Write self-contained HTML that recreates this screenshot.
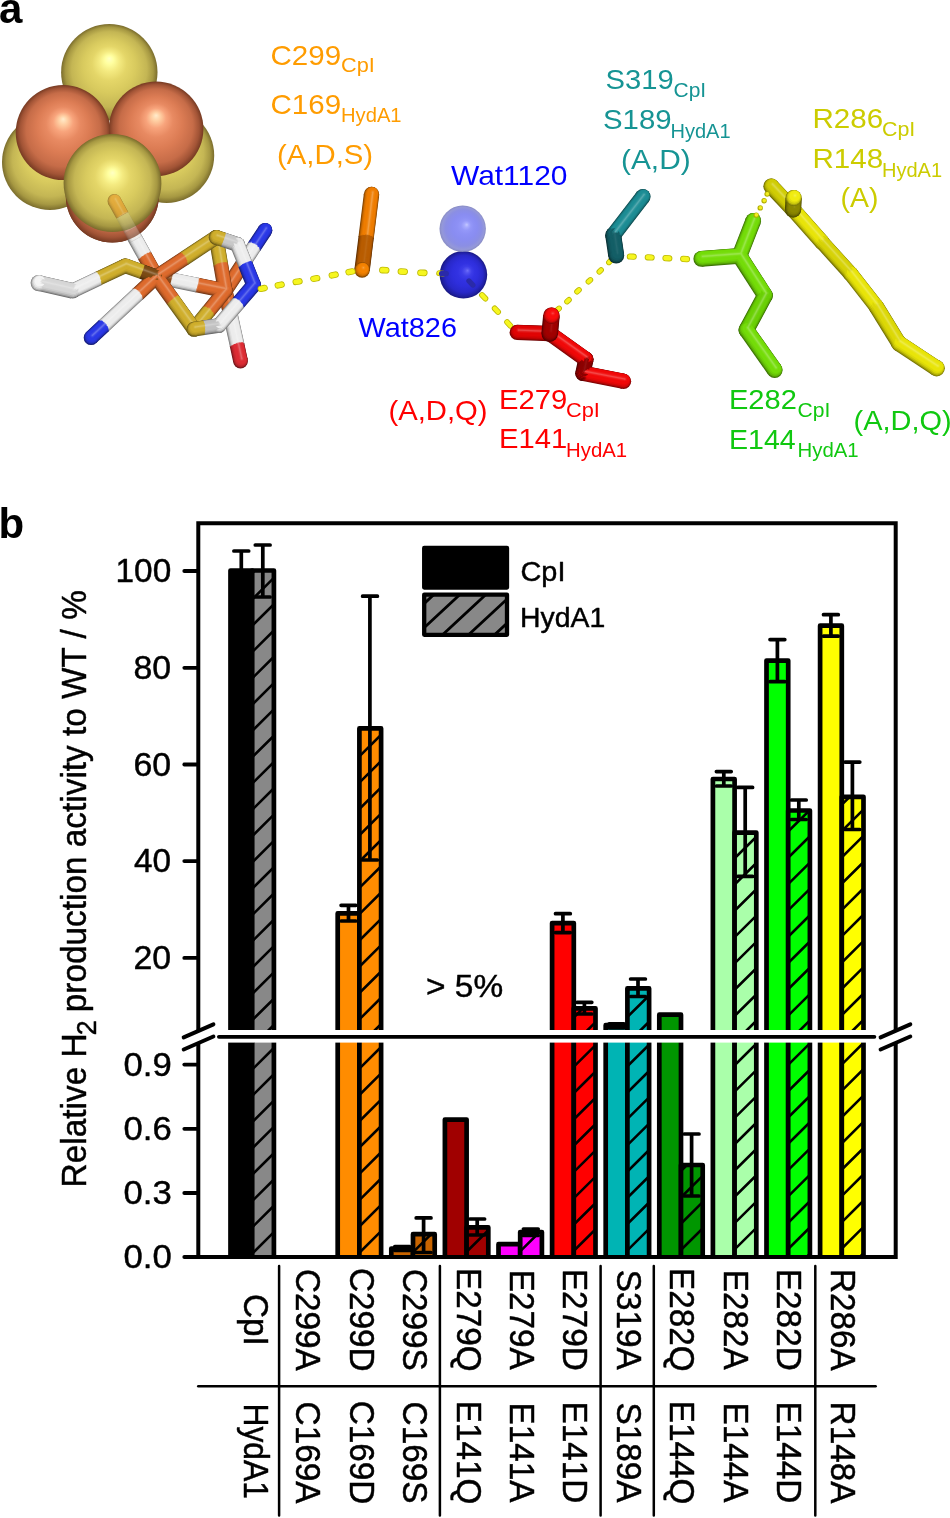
<!DOCTYPE html>
<html lang="en">
<head>
<meta charset="utf-8">
<title>Figure</title>
<style>
html,body{margin:0;padding:0;background:#fff;}
body{width:950px;height:1518px;overflow:hidden;font-family:'Liberation Sans', Arial, Helvetica, sans-serif;}
svg{display:block;}
svg text{font-family:'Liberation Sans', Arial, Helvetica, sans-serif;}
</style>
</head>
<body>
<svg width="950" height="1518" viewBox="0 0 950 1518">
<defs>
<clipPath id="c0b"><rect x="252.2" y="570.5" width="21.7" height="686.5"/></clipPath>
<clipPath id="c2b"><rect x="359.4" y="728.4" width="21.7" height="528.6"/></clipPath>
<clipPath id="c3b"><rect x="413.0" y="1234.2" width="21.7" height="22.8"/></clipPath>
<clipPath id="c4b"><rect x="466.6" y="1227.4" width="21.7" height="29.6"/></clipPath>
<clipPath id="c5b"><rect x="520.2" y="1232.0" width="21.7" height="25.0"/></clipPath>
<clipPath id="c6b"><rect x="573.8" y="1008.4" width="21.7" height="248.6"/></clipPath>
<clipPath id="c7b"><rect x="627.4" y="988.4" width="21.7" height="268.6"/></clipPath>
<clipPath id="c8b"><rect x="681.0" y="1165.0" width="21.7" height="92.0"/></clipPath>
<clipPath id="c9b"><rect x="734.6" y="832.6" width="21.7" height="424.4"/></clipPath>
<clipPath id="c10b"><rect x="788.2" y="810.5" width="21.7" height="446.5"/></clipPath>
<clipPath id="c11b"><rect x="841.8" y="796.8" width="21.7" height="460.2"/></clipPath>
<clipPath id="cleg"><rect x="424.2" y="594.7" width="82.8" height="40.1"/></clipPath>
<radialGradient id="sg1" cx="0.5" cy="0.5" r="0.5" fx="0.5" fy="0.357"><stop offset="0" stop-color="#ffffc4"/><stop offset="0.09" stop-color="#ffffa0"/><stop offset="0.21" stop-color="#f4ea80"/><stop offset="0.36" stop-color="#e4d668"/><stop offset="0.55" stop-color="#d8ca5e"/><stop offset="0.78" stop-color="#c4b654"/><stop offset="0.91" stop-color="#a69842"/><stop offset="1.0" stop-color="#7a6c2c"/></radialGradient>
<radialGradient id="sg2" cx="0.5" cy="0.5" r="0.5" fx="0.5" fy="0.357"><stop offset="0" stop-color="#ffffc4"/><stop offset="0.09" stop-color="#ffffa0"/><stop offset="0.21" stop-color="#f4ea80"/><stop offset="0.36" stop-color="#e4d668"/><stop offset="0.55" stop-color="#d8ca5e"/><stop offset="0.78" stop-color="#c4b654"/><stop offset="0.91" stop-color="#a69842"/><stop offset="1.0" stop-color="#7a6c2c"/></radialGradient>
<radialGradient id="sg3" cx="0.5" cy="0.5" r="0.5" fx="0.5" fy="0.357"><stop offset="0" stop-color="#ffeccc"/><stop offset="0.09" stop-color="#ffd0a4"/><stop offset="0.21" stop-color="#f8a47c"/><stop offset="0.36" stop-color="#e88a62"/><stop offset="0.55" stop-color="#dc7c54"/><stop offset="0.78" stop-color="#c66c48"/><stop offset="0.91" stop-color="#a25436"/><stop offset="1.0" stop-color="#763a22"/></radialGradient>
<radialGradient id="sg4" cx="0.5" cy="0.5" r="0.5" fx="0.5" fy="0.357"><stop offset="0" stop-color="#ffffc4"/><stop offset="0.09" stop-color="#ffffa0"/><stop offset="0.21" stop-color="#f4ea80"/><stop offset="0.36" stop-color="#e4d668"/><stop offset="0.55" stop-color="#d8ca5e"/><stop offset="0.78" stop-color="#c4b654"/><stop offset="0.91" stop-color="#a69842"/><stop offset="1.0" stop-color="#7a6c2c"/></radialGradient>
<clipPath id="clL"><rect x="0" y="0" width="110.2" height="300"/></clipPath>
<clipPath id="clR"><rect x="109.4" y="0" width="300" height="300"/></clipPath>
<radialGradient id="sg5" cx="0.5" cy="0.5" r="0.5" fx="0.5" fy="0.357"><stop offset="0" stop-color="#ffeccc"/><stop offset="0.09" stop-color="#ffd0a4"/><stop offset="0.21" stop-color="#f8a47c"/><stop offset="0.36" stop-color="#e88a62"/><stop offset="0.55" stop-color="#dc7c54"/><stop offset="0.78" stop-color="#c66c48"/><stop offset="0.91" stop-color="#a25436"/><stop offset="1.0" stop-color="#763a22"/></radialGradient>
<radialGradient id="sg6" cx="0.5" cy="0.5" r="0.5" fx="0.5" fy="0.357"><stop offset="0" stop-color="#ffeccc"/><stop offset="0.09" stop-color="#ffd0a4"/><stop offset="0.21" stop-color="#f8a47c"/><stop offset="0.36" stop-color="#e88a62"/><stop offset="0.55" stop-color="#dc7c54"/><stop offset="0.78" stop-color="#c66c48"/><stop offset="0.91" stop-color="#a25436"/><stop offset="1.0" stop-color="#763a22"/></radialGradient>
<clipPath id="clF"><rect x="0" y="180" width="300" height="200"/></clipPath>
<radialGradient id="sg7" cx="0.5" cy="0.5" r="0.5" fx="0.5" fy="0.357"><stop offset="0" stop-color="#ffeccc"/><stop offset="0.09" stop-color="#ffd0a4"/><stop offset="0.21" stop-color="#f8a47c"/><stop offset="0.36" stop-color="#e88a62"/><stop offset="0.55" stop-color="#dc7c54"/><stop offset="0.78" stop-color="#c66c48"/><stop offset="0.91" stop-color="#a25436"/><stop offset="1.0" stop-color="#763a22"/></radialGradient>
<radialGradient id="sg8" cx="0.5" cy="0.5" r="0.5" fx="0.5" fy="0.395"><stop offset="0" stop-color="#ffffc4"/><stop offset="0.09" stop-color="#ffffa0"/><stop offset="0.21" stop-color="#f4ea80"/><stop offset="0.36" stop-color="#e4d668"/><stop offset="0.55" stop-color="#d8ca5e"/><stop offset="0.78" stop-color="#c4b654"/><stop offset="0.91" stop-color="#a69842"/><stop offset="1.0" stop-color="#7a6c2c"/></radialGradient>
<radialGradient id="sg9" cx="0.5" cy="0.5" r="0.5" fx="0.59" fy="0.41"><stop offset="0" stop-color="#7070f8"/><stop offset="0.09" stop-color="#5252f0"/><stop offset="0.21" stop-color="#3c3ce8"/><stop offset="0.36" stop-color="#3232e2"/><stop offset="0.55" stop-color="#2e2edc"/><stop offset="0.78" stop-color="#2828c8"/><stop offset="0.91" stop-color="#2020a4"/><stop offset="1.0" stop-color="#181880"/></radialGradient>
<radialGradient id="sg10" cx="0.5" cy="0.5" r="0.5" fx="0.59" fy="0.41"><stop offset="0" stop-color="#c0c4ff"/><stop offset="0.09" stop-color="#a2a6fe"/><stop offset="0.21" stop-color="#8c90f8"/><stop offset="0.36" stop-color="#8488f4"/><stop offset="0.55" stop-color="#8084f0"/><stop offset="0.78" stop-color="#8286e2"/><stop offset="0.91" stop-color="#8c90d6"/><stop offset="1.0" stop-color="#8084c0"/></radialGradient>
</defs>
<rect x="0" y="0" width="950" height="1518" fill="#fff"/>
<g id="panel-b">
<text transform="translate(-1.5,538.0)" font-size="42" fill="#000" font-weight="bold">b</text>
<path d="M230.5,1257.0V570.5H252.2V1257.0Z" fill="#000000"/>
<path d="M230.5,1257.0V570.5H252.2V1257.0" fill="none" stroke="#000" stroke-width="4.7" stroke-linejoin="round"/>
<path d="M252.2,1257.0V570.5H273.9V1257.0Z" fill="#888888"/>
<path d="M261.5,1297.0L275.9,1282.7M250.2,1281.9L275.9,1256.4M250.2,1255.6L275.9,1230.1M250.2,1229.3L275.9,1203.8M250.2,1203.0L275.9,1177.5M250.2,1176.7L275.9,1151.2M250.2,1150.4L275.9,1124.9M250.2,1124.1L275.9,1098.6M250.2,1097.8L275.9,1072.3M250.2,1071.5L275.9,1046.0M250.2,1045.2L258.5,1037.0M261.8,1037.0L275.9,1023.0M250.2,1022.2L275.9,996.7M250.2,995.9L275.9,970.4M250.2,969.6L275.9,944.1M250.2,943.3L275.9,917.8M250.2,917.0L275.9,891.5M250.2,890.7L275.9,865.2M250.2,864.4L275.9,838.9M250.2,838.1L275.9,812.6M250.2,811.8L275.9,786.3M250.2,785.5L275.9,760.0M250.2,759.2L275.9,733.7M250.2,732.9L275.9,707.4M250.2,706.6L275.9,681.1M250.2,680.3L275.9,654.8M250.2,654.0L275.9,628.5M250.2,627.7L275.9,602.2M250.2,601.4L275.9,575.9M250.2,575.1L275.9,549.6" fill="none" stroke="#000" stroke-width="2.6" clip-path="url(#c0b)"/>
<path d="M252.2,1257.0V570.5H273.9V1257.0" fill="none" stroke="#000" stroke-width="4.7" stroke-linejoin="round"/>
<path d="M241.3,551.0V570.5M233.9,551.0h14.8" fill="none" stroke="#000" stroke-width="3.7" stroke-linecap="round"/>
<path d="M262.8,545.0V597.0M255.3,545.0h14.8M255.3,597.0h14.8" fill="none" stroke="#000" stroke-width="3.7" stroke-linecap="round"/>
<path d="M337.7,1257.0V913.4H359.4V1257.0Z" fill="#FF8C00"/>
<path d="M337.7,1257.0V913.4H359.4V1257.0" fill="none" stroke="#000" stroke-width="4.7" stroke-linejoin="round"/>
<path d="M359.4,1257.0V728.4H381.1V1257.0Z" fill="#FF8C00"/>
<path d="M367.8,1297.0L383.1,1281.8M357.4,1281.0L383.1,1255.5M357.4,1254.7L383.1,1229.2M357.4,1228.4L383.1,1202.9M357.4,1202.1L383.1,1176.6M357.4,1175.8L383.1,1150.3M357.4,1149.5L383.1,1124.0M357.4,1123.2L383.1,1097.7M357.4,1096.9L383.1,1071.4M357.4,1070.6L383.1,1045.1M357.4,1044.3L364.7,1037.0M368.1,1037.0L383.1,1022.1M357.4,1021.3L383.1,995.8M357.4,995.0L383.1,969.5M357.4,968.7L383.1,943.2M357.4,942.4L383.1,916.9M357.4,916.1L383.1,890.6M357.4,889.8L383.1,864.3M357.4,863.5L383.1,838.0M357.4,837.2L383.1,811.7M357.4,810.9L383.1,785.4M357.4,784.6L383.1,759.1M357.4,758.3L383.1,732.8M357.4,732.0L383.1,706.5" fill="none" stroke="#000" stroke-width="2.6" clip-path="url(#c2b)"/>
<path d="M359.4,1257.0V728.4H381.1V1257.0" fill="none" stroke="#000" stroke-width="4.7" stroke-linejoin="round"/>
<path d="M348.5,905.3V921.0M341.1,905.3h14.8M341.1,921.0h14.8" fill="none" stroke="#000" stroke-width="3.7" stroke-linecap="round"/>
<path d="M369.9,596.2V860.0M362.6,596.2h14.8M362.6,860.0h14.8" fill="none" stroke="#000" stroke-width="3.7" stroke-linecap="round"/>
<path d="M391.3,1257.0V1248.6H413.0V1257.0Z" fill="#C86400"/>
<path d="M391.3,1257.0V1248.6H413.0V1257.0" fill="none" stroke="#000" stroke-width="4.7" stroke-linejoin="round"/>
<path d="M413.0,1257.0V1234.2H434.7V1257.0Z" fill="#C86400"/>
<path d="M420.9,1297.0L436.7,1281.3M411.0,1280.5L436.7,1255.0M411.0,1254.2L436.7,1228.7" fill="none" stroke="#000" stroke-width="2.6" clip-path="url(#c3b)"/>
<path d="M413.0,1257.0V1234.2H434.7V1257.0" fill="none" stroke="#000" stroke-width="4.7" stroke-linejoin="round"/>
<path d="M402.1,1246.5V1250.5M394.8,1246.5h14.8M394.8,1250.5h14.8" fill="none" stroke="#000" stroke-width="3.7" stroke-linecap="round"/>
<path d="M423.6,1217.9V1252.5M416.2,1217.9h14.8M416.2,1252.5h14.8" fill="none" stroke="#000" stroke-width="3.7" stroke-linecap="round"/>
<path d="M444.9,1257.0V1119.6H466.6V1257.0Z" fill="#A00000"/>
<path d="M444.9,1257.0V1119.6H466.6V1257.0" fill="none" stroke="#000" stroke-width="4.7" stroke-linejoin="round"/>
<path d="M466.6,1257.0V1227.4H488.3V1257.0Z" fill="#A00000"/>
<path d="M474.0,1297.0L490.3,1280.9M464.6,1280.0L490.3,1254.6M464.6,1253.7L490.3,1228.3M464.6,1227.4L490.3,1202.0" fill="none" stroke="#000" stroke-width="2.6" clip-path="url(#c4b)"/>
<path d="M466.6,1257.0V1227.4H488.3V1257.0" fill="none" stroke="#000" stroke-width="4.7" stroke-linejoin="round"/>
<path d="M477.2,1219.0V1235.0M469.8,1219.0h14.8M469.8,1235.0h14.8" fill="none" stroke="#000" stroke-width="3.7" stroke-linecap="round"/>
<path d="M498.5,1257.0V1244.2H520.2V1257.0Z" fill="#FF00FF"/>
<path d="M498.5,1257.0V1244.2H520.2V1257.0" fill="none" stroke="#000" stroke-width="4.7" stroke-linejoin="round"/>
<path d="M520.2,1257.0V1232.0H541.9V1257.0Z" fill="#FF00FF"/>
<path d="M527.2,1297.0L543.9,1280.4M518.2,1279.6L543.9,1254.1M518.2,1253.3L543.9,1227.8" fill="none" stroke="#000" stroke-width="2.6" clip-path="url(#c5b)"/>
<path d="M520.2,1257.0V1232.0H541.9V1257.0" fill="none" stroke="#000" stroke-width="4.7" stroke-linejoin="round"/>
<path d="M530.8,1229.0V1235.5M523.4,1229.0h14.8M523.4,1235.5h14.8" fill="none" stroke="#000" stroke-width="3.7" stroke-linecap="round"/>
<path d="M552.1,1257.0V923.1H573.8V1257.0Z" fill="#FF0000"/>
<path d="M552.1,1257.0V923.1H573.8V1257.0" fill="none" stroke="#000" stroke-width="4.7" stroke-linejoin="round"/>
<path d="M573.8,1257.0V1008.4H595.5V1257.0Z" fill="#FF0000"/>
<path d="M580.3,1297.0L597.5,1280.0M571.8,1279.1L597.5,1253.7M571.8,1252.8L597.5,1227.4M571.8,1226.5L597.5,1201.1M571.8,1200.2L597.5,1174.8M571.8,1173.9L597.5,1148.5M571.8,1147.6L597.5,1122.2M571.8,1121.3L597.5,1095.9M571.8,1095.0L597.5,1069.6M571.8,1068.7L597.5,1043.3M571.8,1042.4L577.3,1037.0M580.6,1037.0L597.5,1020.3M571.8,1019.4L597.5,994.0" fill="none" stroke="#000" stroke-width="2.6" clip-path="url(#c6b)"/>
<path d="M573.8,1257.0V1008.4H595.5V1257.0" fill="none" stroke="#000" stroke-width="4.7" stroke-linejoin="round"/>
<path d="M562.9,913.7V932.6M555.5,913.7h14.8M555.5,932.6h14.8" fill="none" stroke="#000" stroke-width="3.7" stroke-linecap="round"/>
<path d="M584.4,1002.3V1014.0M577.0,1002.3h14.8M577.0,1014.0h14.8" fill="none" stroke="#000" stroke-width="3.7" stroke-linecap="round"/>
<path d="M605.7,1257.0V1025.2H627.4V1257.0Z" fill="#00B4B4"/>
<path d="M605.7,1257.0V1025.2H627.4V1257.0" fill="none" stroke="#000" stroke-width="4.7" stroke-linejoin="round"/>
<path d="M627.4,1257.0V988.4H649.1V1257.0Z" fill="#00B4B4"/>
<path d="M633.4,1297.0L651.1,1279.5M625.4,1278.6L651.1,1253.2M625.4,1252.3L651.1,1226.9M625.4,1226.0L651.1,1200.6M625.4,1199.7L651.1,1174.3M625.4,1173.4L651.1,1148.0M625.4,1147.1L651.1,1121.7M625.4,1120.8L651.1,1095.4M625.4,1094.5L651.1,1069.1M625.4,1068.2L651.1,1042.8M625.4,1041.9L630.4,1037.0M633.7,1037.0L651.1,1019.8M625.4,1018.9L651.1,993.5M625.4,992.6L651.1,967.2" fill="none" stroke="#000" stroke-width="2.6" clip-path="url(#c7b)"/>
<path d="M627.4,1257.0V988.4H649.1V1257.0" fill="none" stroke="#000" stroke-width="4.7" stroke-linejoin="round"/>
<path d="M616.5,1023.8V1028.0M609.1,1023.8h14.8M609.1,1028.0h14.8" fill="none" stroke="#000" stroke-width="3.7" stroke-linecap="round"/>
<path d="M638.0,979.0V996.5M630.6,979.0h14.8M630.6,996.5h14.8" fill="none" stroke="#000" stroke-width="3.7" stroke-linecap="round"/>
<path d="M659.3,1257.0V1014.7H681.0V1257.0Z" fill="#009600"/>
<path d="M659.3,1257.0V1014.7H681.0V1257.0" fill="none" stroke="#000" stroke-width="4.7" stroke-linejoin="round"/>
<path d="M681.0,1257.0V1165.0H702.7V1257.0Z" fill="#009600"/>
<path d="M686.5,1297.0L704.7,1279.0M679.0,1278.2L704.7,1252.7M679.0,1251.9L704.7,1226.4M679.0,1225.6L704.7,1200.1M679.0,1199.3L704.7,1173.8M679.0,1173.0L704.7,1147.5" fill="none" stroke="#000" stroke-width="2.6" clip-path="url(#c8b)"/>
<path d="M681.0,1257.0V1165.0H702.7V1257.0" fill="none" stroke="#000" stroke-width="4.7" stroke-linejoin="round"/>
<path d="M691.6,1134.0V1196.0M684.2,1134.0h14.8M684.2,1196.0h14.8" fill="none" stroke="#000" stroke-width="3.7" stroke-linecap="round"/>
<path d="M712.9,1257.0V779.0H734.6V1257.0Z" fill="#AAFFAA"/>
<path d="M712.9,1257.0V779.0H734.6V1257.0" fill="none" stroke="#000" stroke-width="4.7" stroke-linejoin="round"/>
<path d="M734.6,1257.0V832.6H756.3V1257.0Z" fill="#AAFFAA"/>
<path d="M739.7,1297.0L758.3,1278.6M732.6,1277.7L758.3,1252.3M732.6,1251.4L758.3,1226.0M732.6,1225.1L758.3,1199.7M732.6,1198.8L758.3,1173.4M732.6,1172.5L758.3,1147.1M732.6,1146.2L758.3,1120.8M732.6,1119.9L758.3,1094.5M732.6,1093.6L758.3,1068.2M732.6,1067.3L758.3,1041.9M732.6,1041.0L736.6,1037.0M740.0,1037.0L758.3,1018.9M732.6,1018.0L758.3,992.6M732.6,991.7L758.3,966.3M732.6,965.4L758.3,940.0M732.6,939.1L758.3,913.7M732.6,912.8L758.3,887.4M732.6,886.5L758.3,861.1M732.6,860.2L758.3,834.8M732.6,833.9L758.3,808.5" fill="none" stroke="#000" stroke-width="2.6" clip-path="url(#c9b)"/>
<path d="M734.6,1257.0V832.6H756.3V1257.0" fill="none" stroke="#000" stroke-width="4.7" stroke-linejoin="round"/>
<path d="M723.8,771.6V786.0M716.4,771.6h14.8M716.4,786.0h14.8" fill="none" stroke="#000" stroke-width="3.7" stroke-linecap="round"/>
<path d="M745.2,787.4V876.4M737.8,787.4h14.8M737.8,876.4h14.8" fill="none" stroke="#000" stroke-width="3.7" stroke-linecap="round"/>
<path d="M766.5,1257.0V660.6H788.2V1257.0Z" fill="#00FF00"/>
<path d="M766.5,1257.0V660.6H788.2V1257.0" fill="none" stroke="#000" stroke-width="4.7" stroke-linejoin="round"/>
<path d="M788.2,1257.0V810.5H809.9V1257.0Z" fill="#00FF00"/>
<path d="M792.8,1297.0L811.9,1278.1M786.2,1277.2L811.9,1251.8M786.2,1250.9L811.9,1225.5M786.2,1224.6L811.9,1199.2M786.2,1198.3L811.9,1172.9M786.2,1172.0L811.9,1146.6M786.2,1145.7L811.9,1120.3M786.2,1119.4L811.9,1094.0M786.2,1093.1L811.9,1067.7M786.2,1066.8L811.9,1041.4M786.2,1040.5L789.8,1037.0M793.1,1037.0L811.9,1018.4M786.2,1017.5L811.9,992.1M786.2,991.2L811.9,965.8M786.2,964.9L811.9,939.5M786.2,938.6L811.9,913.2M786.2,912.3L811.9,886.9M786.2,886.0L811.9,860.6M786.2,859.7L811.9,834.3M786.2,833.4L811.9,808.0" fill="none" stroke="#000" stroke-width="2.6" clip-path="url(#c10b)"/>
<path d="M788.2,1257.0V810.5H809.9V1257.0" fill="none" stroke="#000" stroke-width="4.7" stroke-linejoin="round"/>
<path d="M777.4,639.6V681.7M770.0,639.6h14.8M770.0,681.7h14.8" fill="none" stroke="#000" stroke-width="3.7" stroke-linecap="round"/>
<path d="M798.8,800.0V819.5M791.4,800.0h14.8M791.4,819.5h14.8" fill="none" stroke="#000" stroke-width="3.7" stroke-linecap="round"/>
<path d="M820.1,1257.0V625.7H841.8V1257.0Z" fill="#FFFF00"/>
<path d="M820.1,1257.0V625.7H841.8V1257.0" fill="none" stroke="#000" stroke-width="4.7" stroke-linejoin="round"/>
<path d="M841.8,1257.0V796.8H863.5V1257.0Z" fill="#FFFF00"/>
<path d="M845.9,1297.0L865.5,1277.6M839.8,1276.8L865.5,1251.3M839.8,1250.5L865.5,1225.0M839.8,1224.2L865.5,1198.7M839.8,1197.9L865.5,1172.4M839.8,1171.6L865.5,1146.1M839.8,1145.3L865.5,1119.8M839.8,1119.0L865.5,1093.5M839.8,1092.7L865.5,1067.2M839.8,1066.4L865.5,1040.9M839.8,1040.1L842.9,1037.0M846.2,1037.0L865.5,1017.9M839.8,1017.1L865.5,991.6M839.8,990.8L865.5,965.3M839.8,964.5L865.5,939.0M839.8,938.2L865.5,912.7M839.8,911.9L865.5,886.4M839.8,885.6L865.5,860.1M839.8,859.3L865.5,833.8M839.8,833.0L865.5,807.5M839.8,806.7L865.5,781.2" fill="none" stroke="#000" stroke-width="2.6" clip-path="url(#c11b)"/>
<path d="M841.8,1257.0V796.8H863.5V1257.0" fill="none" stroke="#000" stroke-width="4.7" stroke-linejoin="round"/>
<path d="M830.9,614.7V636.2M823.5,614.7h14.8M823.5,636.2h14.8" fill="none" stroke="#000" stroke-width="3.7" stroke-linecap="round"/>
<path d="M852.4,762.1V829.5M845.0,762.1h14.8M845.0,829.5h14.8" fill="none" stroke="#000" stroke-width="3.7" stroke-linecap="round"/>
<rect x="216" y="1030.0" width="664" height="12.6" fill="#fff"/>
<path d="M218.9,1036.8H874.4" stroke="#000" stroke-width="3.8" stroke-linecap="round" fill="none"/>
<path d="M198.3,1030.5V523.2H895.7V1030.5 M198.3,1043V1257.0H895.7V1043" fill="none" stroke="#000" stroke-width="4.0" stroke-linejoin="miter"/>
<path d="M183.7,1037.4l29.7,-13.0M183.7,1049.5l29.7,-13.0" stroke="#000" stroke-width="4" stroke-linecap="round" fill="none"/>
<path d="M880.6,1037.4l29.7,-13.0M880.6,1049.5l29.7,-13.0" stroke="#000" stroke-width="4" stroke-linecap="round" fill="none"/>
<path d="M184.3,571.0H196.8" stroke="#000" stroke-width="3.8" stroke-linecap="round"/>
<text transform="translate(115.5,582.3)" font-size="33.6" fill="#000" stroke="#000" stroke-width="0.45" stroke-linejoin="round" textLength="55.7" lengthAdjust="spacingAndGlyphs">100</text>
<path d="M184.3,667.8H196.8" stroke="#000" stroke-width="3.8" stroke-linecap="round"/>
<text transform="translate(133.5,679.1)" font-size="33.6" fill="#000" stroke="#000" stroke-width="0.45" stroke-linejoin="round" textLength="37.7" lengthAdjust="spacingAndGlyphs">80</text>
<path d="M184.3,764.5H196.8" stroke="#000" stroke-width="3.8" stroke-linecap="round"/>
<text transform="translate(133.5,775.8)" font-size="33.6" fill="#000" stroke="#000" stroke-width="0.45" stroke-linejoin="round" textLength="37.7" lengthAdjust="spacingAndGlyphs">60</text>
<path d="M184.3,861.1H196.8" stroke="#000" stroke-width="3.8" stroke-linecap="round"/>
<text transform="translate(134.0,872.4)" font-size="33.6" fill="#000" stroke="#000" stroke-width="0.45" stroke-linejoin="round" textLength="37.1" lengthAdjust="spacingAndGlyphs">40</text>
<path d="M184.3,957.9H196.8" stroke="#000" stroke-width="3.8" stroke-linecap="round"/>
<text transform="translate(133.5,969.2)" font-size="33.6" fill="#000" stroke="#000" stroke-width="0.45" stroke-linejoin="round" textLength="37.7" lengthAdjust="spacingAndGlyphs">20</text>
<path d="M184.3,1064.6H196.8" stroke="#000" stroke-width="3.8" stroke-linecap="round"/>
<text transform="translate(123.5,1075.9)" font-size="33.6" fill="#000" stroke="#000" stroke-width="0.45" stroke-linejoin="round" textLength="48.2" lengthAdjust="spacingAndGlyphs">0.9</text>
<path d="M184.3,1128.8H196.8" stroke="#000" stroke-width="3.8" stroke-linecap="round"/>
<text transform="translate(123.5,1140.1)" font-size="33.6" fill="#000" stroke="#000" stroke-width="0.45" stroke-linejoin="round" textLength="48.2" lengthAdjust="spacingAndGlyphs">0.6</text>
<path d="M184.3,1193.0H196.8" stroke="#000" stroke-width="3.8" stroke-linecap="round"/>
<text transform="translate(123.5,1204.3)" font-size="33.6" fill="#000" stroke="#000" stroke-width="0.45" stroke-linejoin="round" textLength="48.2" lengthAdjust="spacingAndGlyphs">0.3</text>
<path d="M184.3,1257.0H196.8" stroke="#000" stroke-width="3.8" stroke-linecap="round"/>
<text transform="translate(123.5,1268.3)" font-size="33.6" fill="#000" stroke="#000" stroke-width="0.45" stroke-linejoin="round" textLength="48.3" lengthAdjust="spacingAndGlyphs">0.0</text>
<text transform="translate(86.3,1187.5) rotate(-90) scale(1.0,1.03)" font-size="33.3" fill="#000" stroke="#000" stroke-width="0.45" stroke-linejoin="round" textLength="154.2" lengthAdjust="spacingAndGlyphs">Relative H</text>
<text transform="translate(95.6,1035.2) rotate(-90) scale(1.0,1.03)" font-size="26.0" fill="#000" stroke="#000" stroke-width="0.45" stroke-linejoin="round" textLength="15.0" lengthAdjust="spacingAndGlyphs">2</text>
<text transform="translate(86.3,1012.2) rotate(-90) scale(1.0,1.03)" font-size="33.3" fill="#000" stroke="#000" stroke-width="0.45" stroke-linejoin="round" textLength="422.0" lengthAdjust="spacingAndGlyphs">production activity to WT / %</text>
<text transform="translate(426.0,996.7)" font-size="31.5" fill="#000" stroke="#000" stroke-width="0.45" stroke-linejoin="round" textLength="77.1" lengthAdjust="spacingAndGlyphs">&gt; 5%</text>
<rect x="424.2" y="547.9" width="82.8" height="39.7" fill="#000" stroke="#000" stroke-width="4.3" stroke-linejoin="round"/>
<rect x="424.2" y="594.7" width="82.8" height="40.1" fill="#888"/>
<path d="M362.4,636.8L411.9,590.8M388.4,636.8L437.9,590.8M414.4,636.8L463.9,590.8M440.4,636.8L489.9,590.8M466.4,636.8L515.9,590.8M492.4,636.8L541.9,590.8M518.4,636.8L567.9,590.8" fill="none" stroke="#000" stroke-width="2.8" clip-path="url(#cleg)"/>
<rect x="424.2" y="594.7" width="82.8" height="40.1" fill="none" stroke="#000" stroke-width="4.3" stroke-linejoin="round"/>
<text transform="translate(520.5,580.5)" font-size="28.0" fill="#000" stroke="#000" stroke-width="0.45" stroke-linejoin="round" textLength="44.9" lengthAdjust="spacingAndGlyphs">CpI</text>
<text transform="translate(520.0,626.8)" font-size="28.0" fill="#000" stroke="#000" stroke-width="0.45" stroke-linejoin="round" textLength="85.2" lengthAdjust="spacingAndGlyphs">HydA1</text>
<text transform="translate(243.9,1319.8) rotate(90) scale(1.0,1.06)" font-size="33.3" fill="#000" stroke="#000" stroke-width="0.45" stroke-linejoin="round" text-anchor="middle">CpI</text>
<text transform="translate(243.9,1451.2) rotate(90) scale(0.956,1.06)" font-size="33.3" fill="#000" stroke="#000" stroke-width="0.45" stroke-linejoin="round" text-anchor="middle">HydA1</text>
<text transform="translate(296.1,1319.8) rotate(90) scale(1.0,1.06)" font-size="33.3" fill="#000" stroke="#000" stroke-width="0.45" stroke-linejoin="round" text-anchor="middle">C299A</text>
<text transform="translate(296.1,1452.5) rotate(90) scale(1.0,1.06)" font-size="33.3" fill="#000" stroke="#000" stroke-width="0.45" stroke-linejoin="round" text-anchor="middle">C169A</text>
<text transform="translate(349.6,1319.8) rotate(90) scale(1.0,1.06)" font-size="33.3" fill="#000" stroke="#000" stroke-width="0.45" stroke-linejoin="round" text-anchor="middle">C299D</text>
<text transform="translate(349.6,1452.5) rotate(90) scale(1.0,1.06)" font-size="33.3" fill="#000" stroke="#000" stroke-width="0.45" stroke-linejoin="round" text-anchor="middle">C169D</text>
<text transform="translate(403.0,1319.8) rotate(90) scale(1.0,1.06)" font-size="33.3" fill="#000" stroke="#000" stroke-width="0.45" stroke-linejoin="round" text-anchor="middle">C299S</text>
<text transform="translate(403.0,1452.5) rotate(90) scale(1.0,1.06)" font-size="33.3" fill="#000" stroke="#000" stroke-width="0.45" stroke-linejoin="round" text-anchor="middle">C169S</text>
<text transform="translate(456.5,1319.8) rotate(90) scale(1.0,1.06)" font-size="33.3" fill="#000" stroke="#000" stroke-width="0.45" stroke-linejoin="round" text-anchor="middle">E279Q</text>
<text transform="translate(456.5,1452.5) rotate(90) scale(1.0,1.06)" font-size="33.3" fill="#000" stroke="#000" stroke-width="0.45" stroke-linejoin="round" text-anchor="middle">E141Q</text>
<text transform="translate(509.9,1319.8) rotate(90) scale(1.0,1.06)" font-size="33.3" fill="#000" stroke="#000" stroke-width="0.45" stroke-linejoin="round" text-anchor="middle">E279A</text>
<text transform="translate(509.9,1452.5) rotate(90) scale(1.0,1.06)" font-size="33.3" fill="#000" stroke="#000" stroke-width="0.45" stroke-linejoin="round" text-anchor="middle">E141A</text>
<text transform="translate(563.4,1319.8) rotate(90) scale(1.0,1.06)" font-size="33.3" fill="#000" stroke="#000" stroke-width="0.45" stroke-linejoin="round" text-anchor="middle">E279D</text>
<text transform="translate(563.4,1452.5) rotate(90) scale(1.0,1.06)" font-size="33.3" fill="#000" stroke="#000" stroke-width="0.45" stroke-linejoin="round" text-anchor="middle">E141D</text>
<text transform="translate(616.8,1319.8) rotate(90) scale(1.0,1.06)" font-size="33.3" fill="#000" stroke="#000" stroke-width="0.45" stroke-linejoin="round" text-anchor="middle">S319A</text>
<text transform="translate(616.8,1452.5) rotate(90) scale(1.0,1.06)" font-size="33.3" fill="#000" stroke="#000" stroke-width="0.45" stroke-linejoin="round" text-anchor="middle">S189A</text>
<text transform="translate(670.2,1319.8) rotate(90) scale(1.0,1.06)" font-size="33.3" fill="#000" stroke="#000" stroke-width="0.45" stroke-linejoin="round" text-anchor="middle">E282Q</text>
<text transform="translate(670.2,1452.5) rotate(90) scale(1.0,1.06)" font-size="33.3" fill="#000" stroke="#000" stroke-width="0.45" stroke-linejoin="round" text-anchor="middle">E144Q</text>
<text transform="translate(723.7,1319.8) rotate(90) scale(1.0,1.06)" font-size="33.3" fill="#000" stroke="#000" stroke-width="0.45" stroke-linejoin="round" text-anchor="middle">E282A</text>
<text transform="translate(723.7,1452.5) rotate(90) scale(1.0,1.06)" font-size="33.3" fill="#000" stroke="#000" stroke-width="0.45" stroke-linejoin="round" text-anchor="middle">E144A</text>
<text transform="translate(777.2,1319.8) rotate(90) scale(1.0,1.06)" font-size="33.3" fill="#000" stroke="#000" stroke-width="0.45" stroke-linejoin="round" text-anchor="middle">E282D</text>
<text transform="translate(777.2,1452.5) rotate(90) scale(1.0,1.06)" font-size="33.3" fill="#000" stroke="#000" stroke-width="0.45" stroke-linejoin="round" text-anchor="middle">E144D</text>
<text transform="translate(830.6,1319.8) rotate(90) scale(1.0,1.06)" font-size="33.3" fill="#000" stroke="#000" stroke-width="0.45" stroke-linejoin="round" text-anchor="middle">R286A</text>
<text transform="translate(830.6,1452.5) rotate(90) scale(1.0,1.06)" font-size="33.3" fill="#000" stroke="#000" stroke-width="0.45" stroke-linejoin="round" text-anchor="middle">R148A</text>
<path d="M198.3,1386.2H875.6" stroke="#000" stroke-width="2.6" stroke-linecap="round" fill="none"/>
<path d="M279.1,1266V1515.5M439.9,1266V1515.5M600.6,1266V1515.5M653.8,1266V1515.5M815.3,1266V1515.5" stroke="#000" stroke-width="2.5" stroke-linecap="round" fill="none"/>
</g>
<g id="panel-a">
<text transform="translate(-1.0,22.6)" font-size="42" fill="#000" font-weight="bold">a</text>
<circle cx="50.0" cy="162.0" r="48.0" fill="url(#sg1)"/>
<circle cx="166.7" cy="155.4" r="47.5" fill="url(#sg2)"/>
<circle cx="112.3" cy="196.0" r="46.5" fill="url(#sg3)"/>
<circle cx="109.3" cy="72.3" r="48.2" fill="url(#sg4)"/>
<circle cx="63.2" cy="132.6" r="47.5" fill="url(#sg5)" clip-path="url(#clL)"/>
<circle cx="156.1" cy="128.9" r="47.3" fill="url(#sg6)" clip-path="url(#clR)"/>
<g fill="none"><path d="M156.3,276.9L144.5,255.6" stroke="#6f3516" stroke-width="14.8"/><circle cx="156.3" cy="276.9" r="7.40" fill="#6f3516"/><path d="M144.8,256.0L131.9,232.8" stroke="#777777" stroke-width="14.8"/><path d="M156.4,276.6L144.7,255.3" stroke="#98491e" stroke-width="13.9"/><circle cx="156.4" cy="276.6" r="6.96" fill="#98491e"/><path d="M144.9,255.7L132.1,232.5" stroke="#a3a3a3" stroke-width="13.9"/><path d="M156.7,276.2L144.9,254.9" stroke="#bc5a25" stroke-width="12.7"/><circle cx="156.7" cy="276.2" r="6.36" fill="#bc5a25"/><path d="M145.2,255.3L132.3,232.1" stroke="#c9c9c9" stroke-width="12.7"/><path d="M157.0,275.7L145.2,254.4" stroke="#d2652a" stroke-width="11.2"/><circle cx="157.0" cy="275.7" r="5.62" fill="#d2652a"/><path d="M145.4,254.9L132.6,231.6" stroke="#e0e0e0" stroke-width="11.2"/><path d="M157.3,275.1L145.5,253.8" stroke="#dd6a2c" stroke-width="9.5"/><circle cx="157.3" cy="275.1" r="4.74" fill="#dd6a2c"/><path d="M145.8,254.3L132.9,231.0" stroke="#ececec" stroke-width="9.5"/><path d="M157.5,274.7L145.8,253.4" stroke="#df7137" stroke-width="4.4"/><circle cx="157.5" cy="274.7" r="2.22" fill="#df7137"/><path d="M146.0,253.8L133.2,230.6" stroke="#ededed" stroke-width="4.4"/><path d="M157.5,274.7L145.8,253.4" stroke="#e17d47" stroke-width="2.5"/><circle cx="157.5" cy="274.7" r="1.26" fill="#e17d47"/><path d="M146.0,253.8L133.2,230.6" stroke="#eeeeee" stroke-width="2.5"/><path d="M157.5,274.7L145.8,253.4" stroke="#e69163" stroke-width="1.2"/><circle cx="157.5" cy="274.7" r="0.59" fill="#e69163"/><path d="M146.0,253.8L133.2,230.6" stroke="#f1f1f1" stroke-width="1.2"/></g>
<circle cx="112.3" cy="196.0" r="46.5" fill="url(#sg7)" clip-path="url(#clF)"/>
<g opacity="0.3" fill="none"><path d="M135.7,239.6L129.4,228.2" stroke="#797571" stroke-width="13.6"/><path d="M135.9,239.4L129.6,228.0" stroke="#a6a09b" stroke-width="12.8"/><path d="M136.1,239.0L129.8,227.6" stroke="#ccc5bf" stroke-width="11.7"/><path d="M136.3,238.6L130.0,227.2" stroke="#e4dcd5" stroke-width="10.3"/><path d="M136.6,238.0L130.3,226.6" stroke="#f0e8e0" stroke-width="8.7"/><path d="M136.9,237.6L130.6,226.2" stroke="#f1e9e2" stroke-width="4.1"/><path d="M136.9,237.6L130.6,226.2" stroke="#f2ebe4" stroke-width="2.3"/><path d="M136.9,237.6L130.6,226.2" stroke="#f4eee8" stroke-width="1.1"/></g>
<circle cx="112.5" cy="183.0" r="48.9" fill="url(#sg8)"/>
<g opacity="0.55" fill="none"><path d="M122.3,215.3L114.3,200.9" stroke="#754910" stroke-width="13.6"/><circle cx="114.3" cy="200.9" r="6.80" fill="#754910"/><path d="M122.4,215.1L114.5,200.6" stroke="#a06316" stroke-width="12.8"/><circle cx="114.5" cy="200.6" r="6.39" fill="#a06316"/><path d="M122.6,214.7L114.7,200.3" stroke="#c57b1b" stroke-width="11.7"/><circle cx="114.7" cy="200.3" r="5.85" fill="#c57b1b"/><path d="M122.9,214.3L114.9,199.8" stroke="#dc891e" stroke-width="10.3"/><circle cx="114.9" cy="199.8" r="5.17" fill="#dc891e"/><path d="M123.2,213.7L115.2,199.3" stroke="#e89020" stroke-width="8.7"/><circle cx="115.2" cy="199.3" r="4.35" fill="#e89020"/><path d="M123.4,213.3L115.5,198.9" stroke="#e9962b" stroke-width="4.1"/><circle cx="115.5" cy="198.9" r="2.04" fill="#e9962b"/><path d="M123.4,213.3L115.5,198.9" stroke="#eb9e3d" stroke-width="2.3"/><circle cx="115.5" cy="198.9" r="1.16" fill="#eb9e3d"/><path d="M123.4,213.3L115.5,198.9" stroke="#eead5a" stroke-width="1.1"/><circle cx="115.5" cy="198.9" r="0.54" fill="#eead5a"/></g>
<g opacity="0.2" fill="none"><path d="M130.5,230.1L122.3,215.3" stroke="#797971" stroke-width="13.6"/><path d="M130.6,229.9L122.4,215.1" stroke="#a6a69b" stroke-width="12.8"/><path d="M130.8,229.5L122.6,214.7" stroke="#ccccbf" stroke-width="11.7"/><path d="M131.1,229.1L122.9,214.3" stroke="#e4e4d5" stroke-width="10.3"/><path d="M131.4,228.5L123.2,213.7" stroke="#f0f0e0" stroke-width="8.7"/><path d="M131.6,228.1L123.4,213.3" stroke="#f1f1e2" stroke-width="4.1"/><path d="M131.6,228.1L123.4,213.3" stroke="#f2f2e4" stroke-width="2.3"/><path d="M131.6,228.1L123.4,213.3" stroke="#f4f4e8" stroke-width="1.1"/></g>
<g fill="none"><path d="M225.2,290.8L241.9,265.4" stroke="#6f3516" stroke-width="14.8"/><circle cx="225.2" cy="290.8" r="7.40" fill="#6f3516"/><path d="M241.5,266.0L254.6,246.0" stroke="#777777" stroke-width="14.8"/><path d="M254.2,246.6L265.0,230.3" stroke="#151c74" stroke-width="14.8"/><circle cx="265.0" cy="230.3" r="7.40" fill="#151c74"/><path d="M225.2,290.8L230.3,314.0" stroke="#6f3516" stroke-width="14.8"/><circle cx="225.2" cy="290.8" r="7.40" fill="#6f3516"/><path d="M230.1,313.3L237.2,345.5" stroke="#777777" stroke-width="14.8"/><path d="M237.0,344.8L240.5,361.0" stroke="#6f161a" stroke-width="14.8"/><circle cx="240.5" cy="361.0" r="7.40" fill="#6f161a"/><path d="M225.4,290.5L242.1,265.1" stroke="#98491e" stroke-width="13.9"/><circle cx="225.4" cy="290.5" r="6.96" fill="#98491e"/><path d="M241.7,265.7L254.8,245.7" stroke="#a3a3a3" stroke-width="13.9"/><path d="M254.4,246.3L265.2,230.0" stroke="#1d279f" stroke-width="13.9"/><circle cx="265.2" cy="230.0" r="6.96" fill="#1d279f"/><path d="M225.4,290.5L230.4,313.7" stroke="#98491e" stroke-width="13.9"/><circle cx="225.4" cy="290.5" r="6.96" fill="#98491e"/><path d="M230.3,313.0L237.3,345.3" stroke="#a3a3a3" stroke-width="13.9"/><path d="M237.2,344.6L240.7,360.7" stroke="#981e24" stroke-width="13.9"/><circle cx="240.7" cy="360.7" r="6.96" fill="#981e24"/><path d="M225.6,290.1L242.3,264.7" stroke="#bc5a25" stroke-width="12.7"/><circle cx="225.6" cy="290.1" r="6.36" fill="#bc5a25"/><path d="M241.9,265.3L255.0,245.3" stroke="#c9c9c9" stroke-width="12.7"/><path d="M254.6,245.9L265.4,229.6" stroke="#2430c4" stroke-width="12.7"/><circle cx="265.4" cy="229.6" r="6.36" fill="#2430c4"/><path d="M225.6,290.1L230.7,313.3" stroke="#bc5a25" stroke-width="12.7"/><circle cx="225.6" cy="290.1" r="6.36" fill="#bc5a25"/><path d="M230.5,312.6L237.6,344.9" stroke="#c9c9c9" stroke-width="12.7"/><path d="M237.4,344.2L240.9,360.3" stroke="#bb252c" stroke-width="12.7"/><circle cx="240.9" cy="360.3" r="6.36" fill="#bb252c"/><path d="M225.9,289.6L242.6,264.2" stroke="#d2652a" stroke-width="11.2"/><circle cx="225.9" cy="289.6" r="5.62" fill="#d2652a"/><path d="M242.2,264.8L255.3,244.8" stroke="#e0e0e0" stroke-width="11.2"/><path d="M254.9,245.4L265.7,229.1" stroke="#2835db" stroke-width="11.2"/><circle cx="265.7" cy="229.1" r="5.62" fill="#2835db"/><path d="M225.9,289.6L230.9,312.8" stroke="#d2652a" stroke-width="11.2"/><circle cx="225.9" cy="289.6" r="5.62" fill="#d2652a"/><path d="M230.8,312.1L237.8,344.4" stroke="#e0e0e0" stroke-width="11.2"/><path d="M237.7,343.7L241.2,359.8" stroke="#d12a31" stroke-width="11.2"/><circle cx="241.2" cy="359.8" r="5.62" fill="#d12a31"/><path d="M226.2,289.0L242.9,263.6" stroke="#dd6a2c" stroke-width="9.5"/><circle cx="226.2" cy="289.0" r="4.74" fill="#dd6a2c"/><path d="M242.5,264.2L255.7,244.2" stroke="#ececec" stroke-width="9.5"/><path d="M255.3,244.8L266.0,228.5" stroke="#2a38e6" stroke-width="9.5"/><circle cx="266.0" cy="228.5" r="4.74" fill="#2a38e6"/><path d="M226.2,289.0L231.3,312.2" stroke="#dd6a2c" stroke-width="9.5"/><circle cx="226.2" cy="289.0" r="4.74" fill="#dd6a2c"/><path d="M231.1,311.5L238.2,343.8" stroke="#ececec" stroke-width="9.5"/><path d="M238.0,343.1L241.6,359.2" stroke="#dc2c34" stroke-width="9.5"/><circle cx="241.6" cy="359.2" r="4.74" fill="#dc2c34"/><path d="M226.5,288.6L243.2,263.2" stroke="#df7137" stroke-width="4.4"/><circle cx="226.5" cy="288.6" r="2.22" fill="#df7137"/><path d="M242.8,263.8L255.9,243.8" stroke="#ededed" stroke-width="4.4"/><path d="M255.5,244.4L266.3,228.0" stroke="#3542e7" stroke-width="4.4"/><circle cx="266.3" cy="228.0" r="2.22" fill="#3542e7"/><path d="M226.5,288.6L231.5,311.7" stroke="#df7137" stroke-width="4.4"/><circle cx="226.5" cy="288.6" r="2.22" fill="#df7137"/><path d="M231.4,311.0L238.4,343.3" stroke="#ededed" stroke-width="4.4"/><path d="M238.3,342.6L241.8,358.8" stroke="#de373e" stroke-width="4.4"/><circle cx="241.8" cy="358.8" r="2.22" fill="#de373e"/><path d="M226.5,288.6L243.2,263.2" stroke="#e17d47" stroke-width="2.5"/><circle cx="226.5" cy="288.6" r="1.26" fill="#e17d47"/><path d="M242.8,263.8L255.9,243.8" stroke="#eeeeee" stroke-width="2.5"/><path d="M255.5,244.4L266.3,228.0" stroke="#4652e9" stroke-width="2.5"/><circle cx="266.3" cy="228.0" r="1.26" fill="#4652e9"/><path d="M226.5,288.6L231.5,311.7" stroke="#e17d47" stroke-width="2.5"/><circle cx="226.5" cy="288.6" r="1.26" fill="#e17d47"/><path d="M231.4,311.0L238.4,343.3" stroke="#eeeeee" stroke-width="2.5"/><path d="M238.3,342.6L241.8,358.8" stroke="#e1474e" stroke-width="2.5"/><circle cx="241.8" cy="358.8" r="1.26" fill="#e1474e"/><path d="M226.5,288.6L243.2,263.2" stroke="#e69163" stroke-width="1.2"/><circle cx="226.5" cy="288.6" r="0.59" fill="#e69163"/><path d="M242.8,263.8L255.9,243.8" stroke="#f1f1f1" stroke-width="1.2"/><path d="M255.5,244.4L266.3,228.0" stroke="#616cec" stroke-width="1.2"/><circle cx="266.3" cy="228.0" r="0.59" fill="#616cec"/><path d="M226.5,288.6L231.5,311.7" stroke="#e69163" stroke-width="1.2"/><circle cx="226.5" cy="288.6" r="0.59" fill="#e69163"/><path d="M231.4,311.0L238.4,343.3" stroke="#f1f1f1" stroke-width="1.2"/><path d="M238.3,342.6L241.8,358.8" stroke="#e56369" stroke-width="1.2"/><circle cx="241.8" cy="358.8" r="0.59" fill="#e56369"/></g>
<g fill="none"><path d="M156.3,276.9L171.4,279.9" stroke="#46250e" stroke-width="14.8"/><path d="M170.8,279.8L197.6,285.2" stroke="#777777" stroke-width="14.8"/><path d="M196.9,285.1L225.2,290.8" stroke="#6f3516" stroke-width="14.8"/><circle cx="225.2" cy="290.8" r="7.40" fill="#6f3516"/><path d="M216.1,237.4L220.8,265.1" stroke="#685816" stroke-width="14.8"/><circle cx="216.1" cy="237.4" r="7.40" fill="#685816"/><path d="M220.7,264.6L225.2,290.8" stroke="#6f3516" stroke-width="14.8"/><circle cx="225.2" cy="290.8" r="7.40" fill="#6f3516"/><path d="M193.9,329.2L208.9,310.7" stroke="#685816" stroke-width="14.8"/><circle cx="193.9" cy="329.2" r="7.40" fill="#685816"/><path d="M208.6,311.1L225.2,290.8" stroke="#6f3516" stroke-width="14.8"/><circle cx="225.2" cy="290.8" r="7.40" fill="#6f3516"/><path d="M156.4,276.6L171.6,279.6" stroke="#5f3313" stroke-width="13.9"/><path d="M170.9,279.5L197.8,284.9" stroke="#a3a3a3" stroke-width="13.9"/><path d="M197.1,284.8L225.4,290.5" stroke="#98491e" stroke-width="13.9"/><circle cx="225.4" cy="290.5" r="6.96" fill="#98491e"/><path d="M216.3,237.1L221.0,264.8" stroke="#8f781e" stroke-width="13.9"/><circle cx="216.3" cy="237.1" r="6.96" fill="#8f781e"/><path d="M220.9,264.3L225.4,290.5" stroke="#98491e" stroke-width="13.9"/><circle cx="225.4" cy="290.5" r="6.96" fill="#98491e"/><path d="M194.1,328.9L209.1,310.4" stroke="#8f781e" stroke-width="13.9"/><circle cx="194.1" cy="328.9" r="6.96" fill="#8f781e"/><path d="M208.8,310.8L225.4,290.5" stroke="#98491e" stroke-width="13.9"/><circle cx="225.4" cy="290.5" r="6.96" fill="#98491e"/><path d="M156.7,276.2L171.8,279.2" stroke="#753f18" stroke-width="12.7"/><path d="M171.1,279.1L198.0,284.5" stroke="#c9c9c9" stroke-width="12.7"/><path d="M197.3,284.4L225.6,290.1" stroke="#bc5a25" stroke-width="12.7"/><circle cx="225.6" cy="290.1" r="6.36" fill="#bc5a25"/><path d="M216.5,236.7L221.2,264.5" stroke="#b09425" stroke-width="12.7"/><circle cx="216.5" cy="236.7" r="6.36" fill="#b09425"/><path d="M221.1,263.9L225.6,290.1" stroke="#bc5a25" stroke-width="12.7"/><circle cx="225.6" cy="290.1" r="6.36" fill="#bc5a25"/><path d="M194.3,328.5L209.3,310.1" stroke="#b09425" stroke-width="12.7"/><circle cx="194.3" cy="328.5" r="6.36" fill="#b09425"/><path d="M209.0,310.4L225.6,290.1" stroke="#bc5a25" stroke-width="12.7"/><circle cx="225.6" cy="290.1" r="6.36" fill="#bc5a25"/><path d="M157.0,275.7L172.1,278.8" stroke="#83461b" stroke-width="11.2"/><path d="M171.4,278.6L198.3,284.0" stroke="#e0e0e0" stroke-width="11.2"/><path d="M197.6,283.9L225.9,289.6" stroke="#d2652a" stroke-width="11.2"/><circle cx="225.9" cy="289.6" r="5.62" fill="#d2652a"/><path d="M216.8,236.2L221.5,264.0" stroke="#c5a52a" stroke-width="11.2"/><circle cx="216.8" cy="236.2" r="5.62" fill="#c5a52a"/><path d="M221.4,263.4L225.9,289.6" stroke="#d2652a" stroke-width="11.2"/><circle cx="225.9" cy="289.6" r="5.62" fill="#d2652a"/><path d="M194.6,328.0L209.6,309.6" stroke="#c5a52a" stroke-width="11.2"/><circle cx="194.6" cy="328.0" r="5.62" fill="#c5a52a"/><path d="M209.3,309.9L225.9,289.6" stroke="#d2652a" stroke-width="11.2"/><circle cx="225.9" cy="289.6" r="5.62" fill="#d2652a"/><path d="M157.3,275.1L172.5,278.2" stroke="#8a4a1c" stroke-width="9.5"/><path d="M171.8,278.0L198.6,283.5" stroke="#ececec" stroke-width="9.5"/><path d="M198.0,283.3L226.2,289.0" stroke="#dd6a2c" stroke-width="9.5"/><circle cx="226.2" cy="289.0" r="4.74" fill="#dd6a2c"/><path d="M217.1,235.6L221.9,263.4" stroke="#cfae2c" stroke-width="9.5"/><circle cx="217.1" cy="235.6" r="4.74" fill="#cfae2c"/><path d="M221.8,262.8L226.2,289.0" stroke="#dd6a2c" stroke-width="9.5"/><circle cx="226.2" cy="289.0" r="4.74" fill="#dd6a2c"/><path d="M195.0,327.4L210.0,309.0" stroke="#cfae2c" stroke-width="9.5"/><circle cx="195.0" cy="327.4" r="4.74" fill="#cfae2c"/><path d="M209.6,309.4L226.2,289.0" stroke="#dd6a2c" stroke-width="9.5"/><circle cx="226.2" cy="289.0" r="4.74" fill="#dd6a2c"/><path d="M157.5,274.7L172.7,277.7" stroke="#905327" stroke-width="4.4"/><path d="M172.0,277.6L198.9,283.0" stroke="#ededed" stroke-width="4.4"/><path d="M198.2,282.9L226.5,288.6" stroke="#df7137" stroke-width="4.4"/><circle cx="226.5" cy="288.6" r="2.22" fill="#df7137"/><path d="M217.4,235.2L222.1,262.9" stroke="#d1b237" stroke-width="4.4"/><circle cx="217.4" cy="235.2" r="2.22" fill="#d1b237"/><path d="M222.0,262.4L226.5,288.6" stroke="#df7137" stroke-width="4.4"/><circle cx="226.5" cy="288.6" r="2.22" fill="#df7137"/><path d="M195.2,327.0L210.2,308.5" stroke="#d1b237" stroke-width="4.4"/><circle cx="195.2" cy="327.0" r="2.22" fill="#d1b237"/><path d="M209.9,308.9L226.5,288.6" stroke="#df7137" stroke-width="4.4"/><circle cx="226.5" cy="288.6" r="2.22" fill="#df7137"/><path d="M157.5,274.7L172.7,277.7" stroke="#99623a" stroke-width="2.5"/><path d="M172.0,277.6L198.9,283.0" stroke="#eeeeee" stroke-width="2.5"/><path d="M198.2,282.9L226.5,288.6" stroke="#e17d47" stroke-width="2.5"/><circle cx="226.5" cy="288.6" r="1.26" fill="#e17d47"/><path d="M217.4,235.2L222.1,262.9" stroke="#d5b947" stroke-width="2.5"/><circle cx="217.4" cy="235.2" r="1.26" fill="#d5b947"/><path d="M222.0,262.4L226.5,288.6" stroke="#e17d47" stroke-width="2.5"/><circle cx="226.5" cy="288.6" r="1.26" fill="#e17d47"/><path d="M195.2,327.0L210.2,308.5" stroke="#d5b947" stroke-width="2.5"/><circle cx="195.2" cy="327.0" r="1.26" fill="#d5b947"/><path d="M209.9,308.9L226.5,288.6" stroke="#e17d47" stroke-width="2.5"/><circle cx="226.5" cy="288.6" r="1.26" fill="#e17d47"/><path d="M157.5,274.7L172.7,277.7" stroke="#a87957" stroke-width="1.2"/><path d="M172.0,277.6L198.9,283.0" stroke="#f1f1f1" stroke-width="1.2"/><path d="M198.2,282.9L226.5,288.6" stroke="#e69163" stroke-width="1.2"/><circle cx="226.5" cy="288.6" r="0.59" fill="#e69163"/><path d="M217.4,235.2L222.1,262.9" stroke="#dbc363" stroke-width="1.2"/><circle cx="217.4" cy="235.2" r="0.59" fill="#dbc363"/><path d="M222.0,262.4L226.5,288.6" stroke="#e69163" stroke-width="1.2"/><circle cx="226.5" cy="288.6" r="0.59" fill="#e69163"/><path d="M195.2,327.0L210.2,308.5" stroke="#dbc363" stroke-width="1.2"/><circle cx="195.2" cy="327.0" r="0.59" fill="#dbc363"/><path d="M209.9,308.9L226.5,288.6" stroke="#e69163" stroke-width="1.2"/><circle cx="226.5" cy="288.6" r="0.59" fill="#e69163"/></g>
<g fill="none"><path d="M156.3,276.9L184.4,258.3" stroke="#6f3516" stroke-width="14.8"/><circle cx="156.3" cy="276.9" r="7.40" fill="#6f3516"/><path d="M183.8,258.7L216.1,237.4" stroke="#685816" stroke-width="14.8"/><circle cx="216.1" cy="237.4" r="7.40" fill="#685816"/><path d="M156.3,276.9L173.2,300.4" stroke="#6f3516" stroke-width="14.8"/><circle cx="156.3" cy="276.9" r="7.40" fill="#6f3516"/><path d="M172.8,299.9L193.9,329.2" stroke="#685816" stroke-width="14.8"/><circle cx="193.9" cy="329.2" r="7.40" fill="#685816"/><path d="M156.3,276.9L137.4,294.5" stroke="#6f3516" stroke-width="14.8"/><circle cx="156.3" cy="276.9" r="7.40" fill="#6f3516"/><path d="M138.0,293.9L103.4,326.1" stroke="#777777" stroke-width="14.8"/><path d="M104.1,325.5L91.1,337.7" stroke="#151c74" stroke-width="14.8"/><circle cx="91.1" cy="337.7" r="7.40" fill="#151c74"/><path d="M125.2,265.8L142.3,271.9" stroke="#685816" stroke-width="14.8"/><circle cx="125.2" cy="265.8" r="7.40" fill="#685816"/><path d="M142.0,271.8L156.3,276.9" stroke="#3d250a" stroke-width="14.8"/><circle cx="156.3" cy="276.9" r="7.40" fill="#3d250a"/><path d="M72.6,290.8L98.9,278.3" stroke="#777777" stroke-width="14.6"/><circle cx="72.6" cy="290.8" r="7.30" fill="#777777"/><path d="M98.3,278.5L125.2,265.8" stroke="#685816" stroke-width="14.6"/><circle cx="125.2" cy="265.8" r="7.30" fill="#685816"/><path d="M38.8,283.1L72.6,290.8" stroke="#6c6c6c" stroke-width="15.6"/><circle cx="72.6" cy="290.8" r="7.80" fill="#6c6c6c"/><circle cx="38.8" cy="283.1" r="8.20" fill="#7b7b7b"/><path d="M156.4,276.6L184.6,258.0" stroke="#98491e" stroke-width="13.9"/><circle cx="156.4" cy="276.6" r="6.96" fill="#98491e"/><path d="M184.0,258.4L216.3,237.1" stroke="#8f781e" stroke-width="13.9"/><circle cx="216.3" cy="237.1" r="6.96" fill="#8f781e"/><path d="M156.4,276.6L173.4,300.1" stroke="#98491e" stroke-width="13.9"/><circle cx="156.4" cy="276.6" r="6.96" fill="#98491e"/><path d="M173.0,299.6L194.1,328.9" stroke="#8f781e" stroke-width="13.9"/><circle cx="194.1" cy="328.9" r="6.96" fill="#8f781e"/><path d="M156.4,276.6L137.5,294.2" stroke="#98491e" stroke-width="13.9"/><circle cx="156.4" cy="276.6" r="6.96" fill="#98491e"/><path d="M138.2,293.6L103.6,325.8" stroke="#a3a3a3" stroke-width="13.9"/><path d="M104.3,325.2L91.2,337.4" stroke="#1d279f" stroke-width="13.9"/><circle cx="91.2" cy="337.4" r="6.96" fill="#1d279f"/><path d="M125.3,265.5L142.4,271.6" stroke="#8f781e" stroke-width="13.9"/><circle cx="125.3" cy="265.5" r="6.96" fill="#8f781e"/><path d="M142.1,271.5L156.4,276.6" stroke="#54330e" stroke-width="13.9"/><circle cx="156.4" cy="276.6" r="6.96" fill="#54330e"/><path d="M72.7,290.5L99.0,278.0" stroke="#a3a3a3" stroke-width="13.7"/><circle cx="72.7" cy="290.5" r="6.86" fill="#a3a3a3"/><path d="M98.5,278.2L125.3,265.5" stroke="#8f781e" stroke-width="13.7"/><circle cx="125.3" cy="265.5" r="6.86" fill="#8f781e"/><path d="M38.9,282.8L72.8,290.5" stroke="#949494" stroke-width="14.7"/><circle cx="72.8" cy="290.5" r="7.33" fill="#949494"/><circle cx="38.9" cy="282.8" r="7.71" fill="#a8a8a8"/><path d="M156.7,276.2L184.8,257.6" stroke="#bc5a25" stroke-width="12.7"/><circle cx="156.7" cy="276.2" r="6.36" fill="#bc5a25"/><path d="M184.2,258.0L216.5,236.7" stroke="#b09425" stroke-width="12.7"/><circle cx="216.5" cy="236.7" r="6.36" fill="#b09425"/><path d="M156.7,276.2L173.6,299.7" stroke="#bc5a25" stroke-width="12.7"/><circle cx="156.7" cy="276.2" r="6.36" fill="#bc5a25"/><path d="M173.2,299.2L194.3,328.5" stroke="#b09425" stroke-width="12.7"/><circle cx="194.3" cy="328.5" r="6.36" fill="#b09425"/><path d="M156.7,276.2L137.8,293.8" stroke="#bc5a25" stroke-width="12.7"/><circle cx="156.7" cy="276.2" r="6.36" fill="#bc5a25"/><path d="M138.4,293.2L103.8,325.4" stroke="#c9c9c9" stroke-width="12.7"/><path d="M104.5,324.8L91.4,337.0" stroke="#2430c4" stroke-width="12.7"/><circle cx="91.4" cy="337.0" r="6.36" fill="#2430c4"/><path d="M125.6,265.1L142.7,271.2" stroke="#b09425" stroke-width="12.7"/><circle cx="125.6" cy="265.1" r="6.36" fill="#b09425"/><path d="M142.4,271.1L156.7,276.2" stroke="#683f11" stroke-width="12.7"/><circle cx="156.7" cy="276.2" r="6.36" fill="#683f11"/><path d="M73.0,290.1L99.3,277.6" stroke="#c9c9c9" stroke-width="12.6"/><circle cx="73.0" cy="290.1" r="6.28" fill="#c9c9c9"/><path d="M98.7,277.9L125.5,265.1" stroke="#b09425" stroke-width="12.6"/><circle cx="125.5" cy="265.1" r="6.28" fill="#b09425"/><path d="M39.2,282.4L73.0,290.1" stroke="#b6b6b6" stroke-width="13.4"/><circle cx="73.0" cy="290.1" r="6.71" fill="#b6b6b6"/><circle cx="39.2" cy="282.4" r="7.05" fill="#d0d0d0"/><path d="M157.0,275.7L185.1,257.1" stroke="#d2652a" stroke-width="11.2"/><circle cx="157.0" cy="275.7" r="5.62" fill="#d2652a"/><path d="M184.5,257.5L216.8,236.2" stroke="#c5a52a" stroke-width="11.2"/><circle cx="216.8" cy="236.2" r="5.62" fill="#c5a52a"/><path d="M157.0,275.7L173.9,299.2" stroke="#d2652a" stroke-width="11.2"/><circle cx="157.0" cy="275.7" r="5.62" fill="#d2652a"/><path d="M173.5,298.7L194.6,328.0" stroke="#c5a52a" stroke-width="11.2"/><circle cx="194.6" cy="328.0" r="5.62" fill="#c5a52a"/><path d="M157.0,275.7L138.0,293.3" stroke="#d2652a" stroke-width="11.2"/><circle cx="157.0" cy="275.7" r="5.62" fill="#d2652a"/><path d="M138.7,292.7L104.1,325.0" stroke="#e0e0e0" stroke-width="11.2"/><path d="M104.8,324.3L91.7,336.5" stroke="#2835db" stroke-width="11.2"/><circle cx="91.7" cy="336.5" r="5.62" fill="#2835db"/><path d="M125.8,264.6L143.0,270.7" stroke="#c5a52a" stroke-width="11.2"/><circle cx="125.8" cy="264.6" r="5.62" fill="#c5a52a"/><path d="M142.6,270.6L157.0,275.7" stroke="#744613" stroke-width="11.2"/><circle cx="157.0" cy="275.7" r="5.62" fill="#744613"/><path d="M73.2,289.6L99.5,277.1" stroke="#e0e0e0" stroke-width="11.1"/><circle cx="73.2" cy="289.6" r="5.55" fill="#e0e0e0"/><path d="M99.0,277.4L125.8,264.6" stroke="#c5a52a" stroke-width="11.1"/><circle cx="125.8" cy="264.6" r="5.55" fill="#c5a52a"/><path d="M39.5,281.9L73.3,289.5" stroke="#cbcbcb" stroke-width="11.9"/><circle cx="73.3" cy="289.5" r="5.93" fill="#cbcbcb"/><circle cx="39.5" cy="281.8" r="6.23" fill="#e8e8e8"/><path d="M157.3,275.1L185.4,256.5" stroke="#dd6a2c" stroke-width="9.5"/><circle cx="157.3" cy="275.1" r="4.74" fill="#dd6a2c"/><path d="M184.8,256.9L217.1,235.6" stroke="#cfae2c" stroke-width="9.5"/><circle cx="217.1" cy="235.6" r="4.74" fill="#cfae2c"/><path d="M157.3,275.1L174.2,298.6" stroke="#dd6a2c" stroke-width="9.5"/><circle cx="157.3" cy="275.1" r="4.74" fill="#dd6a2c"/><path d="M173.9,298.1L195.0,327.4" stroke="#cfae2c" stroke-width="9.5"/><circle cx="195.0" cy="327.4" r="4.74" fill="#cfae2c"/><path d="M157.3,275.1L138.4,292.7" stroke="#dd6a2c" stroke-width="9.5"/><circle cx="157.3" cy="275.1" r="4.74" fill="#dd6a2c"/><path d="M139.0,292.1L104.5,324.4" stroke="#ececec" stroke-width="9.5"/><path d="M105.1,323.8L92.1,335.9" stroke="#2a38e6" stroke-width="9.5"/><circle cx="92.1" cy="335.9" r="4.74" fill="#2a38e6"/><path d="M126.2,264.0L143.3,270.1" stroke="#cfae2c" stroke-width="9.5"/><circle cx="126.2" cy="264.0" r="4.74" fill="#cfae2c"/><path d="M143.0,270.0L157.3,275.1" stroke="#7a4a14" stroke-width="9.5"/><circle cx="157.3" cy="275.1" r="4.74" fill="#7a4a14"/><path d="M73.6,289.0L99.9,276.5" stroke="#ececec" stroke-width="9.3"/><circle cx="73.6" cy="289.0" r="4.67" fill="#ececec"/><path d="M99.3,276.8L126.2,264.0" stroke="#cfae2c" stroke-width="9.3"/><circle cx="126.2" cy="264.0" r="4.67" fill="#cfae2c"/><path d="M39.8,281.3L73.6,288.9" stroke="#d6d6d6" stroke-width="10.0"/><circle cx="73.6" cy="288.9" r="4.99" fill="#d6d6d6"/><circle cx="39.9" cy="281.2" r="5.25" fill="#f4f4f4"/><path d="M157.5,274.7L185.7,256.1" stroke="#df7137" stroke-width="4.4"/><circle cx="157.5" cy="274.7" r="2.22" fill="#df7137"/><path d="M185.1,256.5L217.4,235.2" stroke="#d1b237" stroke-width="4.4"/><circle cx="217.4" cy="235.2" r="2.22" fill="#d1b237"/><path d="M157.5,274.7L174.5,298.2" stroke="#df7137" stroke-width="4.4"/><circle cx="157.5" cy="274.7" r="2.22" fill="#df7137"/><path d="M174.1,297.7L195.2,327.0" stroke="#d1b237" stroke-width="4.4"/><circle cx="195.2" cy="327.0" r="2.22" fill="#d1b237"/><path d="M157.5,274.7L138.6,292.3" stroke="#df7137" stroke-width="4.4"/><circle cx="157.5" cy="274.7" r="2.22" fill="#df7137"/><path d="M139.3,291.7L104.7,323.9" stroke="#ededed" stroke-width="4.4"/><path d="M105.4,323.3L92.3,335.5" stroke="#3542e7" stroke-width="4.4"/><circle cx="92.3" cy="335.5" r="2.22" fill="#3542e7"/><path d="M126.4,263.6L143.5,269.7" stroke="#d1b237" stroke-width="4.4"/><circle cx="126.4" cy="263.6" r="2.22" fill="#d1b237"/><path d="M143.2,269.6L157.5,274.7" stroke="#815320" stroke-width="4.4"/><circle cx="157.5" cy="274.7" r="2.22" fill="#815320"/><path d="M73.8,288.6L100.1,276.1" stroke="#ededed" stroke-width="4.4"/><circle cx="73.8" cy="288.6" r="2.19" fill="#ededed"/><path d="M99.6,276.4L126.4,263.6" stroke="#d1b237" stroke-width="4.4"/><circle cx="126.4" cy="263.6" r="2.19" fill="#d1b237"/><path d="M40.1,280.8L73.9,288.5" stroke="#d8d8d8" stroke-width="4.7"/><circle cx="73.9" cy="288.5" r="2.34" fill="#d8d8d8"/><circle cx="40.2" cy="280.7" r="2.46" fill="#f5f5f5"/><path d="M157.5,274.7L185.7,256.1" stroke="#e17d47" stroke-width="2.5"/><circle cx="157.5" cy="274.7" r="1.26" fill="#e17d47"/><path d="M185.1,256.5L217.4,235.2" stroke="#d5b947" stroke-width="2.5"/><circle cx="217.4" cy="235.2" r="1.26" fill="#d5b947"/><path d="M157.5,274.7L174.5,298.2" stroke="#e17d47" stroke-width="2.5"/><circle cx="157.5" cy="274.7" r="1.26" fill="#e17d47"/><path d="M174.1,297.7L195.2,327.0" stroke="#d5b947" stroke-width="2.5"/><circle cx="195.2" cy="327.0" r="1.26" fill="#d5b947"/><path d="M157.5,274.7L138.6,292.3" stroke="#e17d47" stroke-width="2.5"/><circle cx="157.5" cy="274.7" r="1.26" fill="#e17d47"/><path d="M139.3,291.7L104.7,323.9" stroke="#eeeeee" stroke-width="2.5"/><path d="M105.4,323.3L92.3,335.5" stroke="#4652e9" stroke-width="2.5"/><circle cx="92.3" cy="335.5" r="1.26" fill="#4652e9"/><path d="M126.4,263.6L143.5,269.7" stroke="#d5b947" stroke-width="2.5"/><circle cx="126.4" cy="263.6" r="1.26" fill="#d5b947"/><path d="M143.2,269.6L157.5,274.7" stroke="#8b6233" stroke-width="2.5"/><circle cx="157.5" cy="274.7" r="1.26" fill="#8b6233"/><path d="M73.8,288.6L100.1,276.1" stroke="#eeeeee" stroke-width="2.5"/><circle cx="73.8" cy="288.6" r="1.24" fill="#eeeeee"/><path d="M99.6,276.4L126.4,263.6" stroke="#d5b947" stroke-width="2.5"/><circle cx="126.4" cy="263.6" r="1.24" fill="#d5b947"/><path d="M40.1,280.8L73.9,288.5" stroke="#dbdbdb" stroke-width="2.7"/><circle cx="73.9" cy="288.5" r="1.33" fill="#dbdbdb"/><circle cx="40.2" cy="280.7" r="1.39" fill="#f5f5f5"/><path d="M157.5,274.7L185.7,256.1" stroke="#e69163" stroke-width="1.2"/><circle cx="157.5" cy="274.7" r="0.59" fill="#e69163"/><path d="M185.1,256.5L217.4,235.2" stroke="#dbc363" stroke-width="1.2"/><circle cx="217.4" cy="235.2" r="0.59" fill="#dbc363"/><path d="M157.5,274.7L174.5,298.2" stroke="#e69163" stroke-width="1.2"/><circle cx="157.5" cy="274.7" r="0.59" fill="#e69163"/><path d="M174.1,297.7L195.2,327.0" stroke="#dbc363" stroke-width="1.2"/><circle cx="195.2" cy="327.0" r="0.59" fill="#dbc363"/><path d="M157.5,274.7L138.6,292.3" stroke="#e69163" stroke-width="1.2"/><circle cx="157.5" cy="274.7" r="0.59" fill="#e69163"/><path d="M139.3,291.7L104.7,323.9" stroke="#f1f1f1" stroke-width="1.2"/><path d="M105.4,323.3L92.3,335.5" stroke="#616cec" stroke-width="1.2"/><circle cx="92.3" cy="335.5" r="0.59" fill="#616cec"/><path d="M126.4,263.6L143.5,269.7" stroke="#dbc363" stroke-width="1.2"/><circle cx="126.4" cy="263.6" r="0.59" fill="#dbc363"/><path d="M143.2,269.6L157.5,274.7" stroke="#9d7951" stroke-width="1.2"/><circle cx="157.5" cy="274.7" r="0.59" fill="#9d7951"/><path d="M73.8,288.6L100.1,276.1" stroke="#f1f1f1" stroke-width="1.2"/><circle cx="73.8" cy="288.6" r="0.58" fill="#f1f1f1"/><path d="M99.6,276.4L126.4,263.6" stroke="#dbc363" stroke-width="1.2"/><circle cx="126.4" cy="263.6" r="0.58" fill="#dbc363"/><path d="M40.1,280.8L73.9,288.5" stroke="#e1e1e1" stroke-width="1.2"/><circle cx="73.9" cy="288.5" r="0.62" fill="#e1e1e1"/><circle cx="40.2" cy="280.7" r="0.66" fill="#f7f7f7"/></g>
<g fill="none"><path d="M216.1,237.4L223.6,239.8" stroke="#685816" stroke-width="14.8"/><circle cx="216.1" cy="237.4" r="7.40" fill="#685816"/><path d="M223.4,239.8L237.4,244.5" stroke="#656565" stroke-width="14.8"/><circle cx="237.4" cy="244.5" r="7.40" fill="#656565"/><path d="M193.9,329.2L203.9,327.7" stroke="#685816" stroke-width="14.8"/><circle cx="193.9" cy="329.2" r="7.40" fill="#685816"/><path d="M203.7,327.7L218.9,325.5" stroke="#616161" stroke-width="14.8"/><circle cx="218.9" cy="325.5" r="7.40" fill="#616161"/><path d="M253.6,285.1L238.0,303.3" stroke="#151c74" stroke-width="14.8"/><circle cx="253.6" cy="285.1" r="7.40" fill="#151c74"/><path d="M238.4,302.9L218.9,325.5" stroke="#777777" stroke-width="14.8"/><circle cx="218.9" cy="325.5" r="7.40" fill="#777777"/><path d="M237.4,244.5L245.5,264.8" stroke="#777777" stroke-width="14.8"/><circle cx="237.4" cy="244.5" r="7.40" fill="#777777"/><path d="M245.4,264.4L253.6,285.1" stroke="#151c74" stroke-width="14.8"/><circle cx="253.6" cy="285.1" r="7.40" fill="#151c74"/><path d="M216.3,237.1L223.7,239.6" stroke="#8f781e" stroke-width="13.9"/><circle cx="216.3" cy="237.1" r="6.96" fill="#8f781e"/><path d="M223.5,239.5L237.6,244.2" stroke="#8a8a8a" stroke-width="13.9"/><circle cx="237.6" cy="244.2" r="6.96" fill="#8a8a8a"/><path d="M194.1,328.9L204.1,327.4" stroke="#8f781e" stroke-width="13.9"/><circle cx="194.1" cy="328.9" r="6.96" fill="#8f781e"/><path d="M203.9,327.4L219.1,325.2" stroke="#848484" stroke-width="13.9"/><circle cx="219.1" cy="325.2" r="6.96" fill="#848484"/><path d="M253.8,284.8L238.2,303.0" stroke="#1d279f" stroke-width="13.9"/><circle cx="253.8" cy="284.8" r="6.96" fill="#1d279f"/><path d="M238.5,302.6L219.1,325.2" stroke="#a3a3a3" stroke-width="13.9"/><circle cx="219.1" cy="325.2" r="6.96" fill="#a3a3a3"/><path d="M237.6,244.2L245.7,264.5" stroke="#a3a3a3" stroke-width="13.9"/><circle cx="237.6" cy="244.2" r="6.96" fill="#a3a3a3"/><path d="M245.5,264.1L253.8,284.8" stroke="#1d279f" stroke-width="13.9"/><circle cx="253.8" cy="284.8" r="6.96" fill="#1d279f"/><path d="M216.5,236.7L224.0,239.2" stroke="#b09425" stroke-width="12.7"/><circle cx="216.5" cy="236.7" r="6.36" fill="#b09425"/><path d="M223.7,239.1L237.8,243.8" stroke="#aaaaaa" stroke-width="12.7"/><circle cx="237.8" cy="243.8" r="6.36" fill="#aaaaaa"/><path d="M194.3,328.5L204.3,327.0" stroke="#b09425" stroke-width="12.7"/><circle cx="194.3" cy="328.5" r="6.36" fill="#b09425"/><path d="M204.1,327.0L219.3,324.8" stroke="#a3a3a3" stroke-width="12.7"/><circle cx="219.3" cy="324.8" r="6.36" fill="#a3a3a3"/><path d="M254.0,284.4L238.4,302.6" stroke="#2430c4" stroke-width="12.7"/><circle cx="254.0" cy="284.4" r="6.36" fill="#2430c4"/><path d="M238.8,302.2L219.3,324.8" stroke="#c9c9c9" stroke-width="12.7"/><circle cx="219.3" cy="324.8" r="6.36" fill="#c9c9c9"/><path d="M237.8,243.8L245.9,264.1" stroke="#c9c9c9" stroke-width="12.7"/><circle cx="237.8" cy="243.8" r="6.36" fill="#c9c9c9"/><path d="M245.8,263.7L254.0,284.4" stroke="#2430c4" stroke-width="12.7"/><circle cx="254.0" cy="284.4" r="6.36" fill="#2430c4"/><path d="M216.8,236.2L224.2,238.7" stroke="#c5a52a" stroke-width="11.2"/><circle cx="216.8" cy="236.2" r="5.62" fill="#c5a52a"/><path d="M224.0,238.6L238.1,243.3" stroke="#bebebe" stroke-width="11.2"/><circle cx="238.1" cy="243.3" r="5.62" fill="#bebebe"/><path d="M194.6,328.0L204.6,326.5" stroke="#c5a52a" stroke-width="11.2"/><circle cx="194.6" cy="328.0" r="5.62" fill="#c5a52a"/><path d="M204.4,326.5L219.6,324.3" stroke="#b6b6b6" stroke-width="11.2"/><circle cx="219.6" cy="324.3" r="5.62" fill="#b6b6b6"/><path d="M254.3,283.9L238.7,302.1" stroke="#2835db" stroke-width="11.2"/><circle cx="254.3" cy="283.9" r="5.62" fill="#2835db"/><path d="M239.0,301.7L219.6,324.3" stroke="#e0e0e0" stroke-width="11.2"/><circle cx="219.6" cy="324.3" r="5.62" fill="#e0e0e0"/><path d="M238.1,243.3L246.2,263.6" stroke="#e0e0e0" stroke-width="11.2"/><circle cx="238.1" cy="243.3" r="5.62" fill="#e0e0e0"/><path d="M246.0,263.2L254.3,283.9" stroke="#2835db" stroke-width="11.2"/><circle cx="254.3" cy="283.9" r="5.62" fill="#2835db"/><path d="M217.1,235.6L224.6,238.1" stroke="#cfae2c" stroke-width="9.5"/><circle cx="217.1" cy="235.6" r="4.74" fill="#cfae2c"/><path d="M224.4,238.0L238.4,242.7" stroke="#c8c8c8" stroke-width="9.5"/><circle cx="238.4" cy="242.7" r="4.74" fill="#c8c8c8"/><path d="M195.0,327.4L205.0,325.9" stroke="#cfae2c" stroke-width="9.5"/><circle cx="195.0" cy="327.4" r="4.74" fill="#cfae2c"/><path d="M204.7,326.0L220.0,323.7" stroke="#c0c0c0" stroke-width="9.5"/><circle cx="220.0" cy="323.7" r="4.74" fill="#c0c0c0"/><path d="M254.6,283.3L239.0,301.5" stroke="#2a38e6" stroke-width="9.5"/><circle cx="254.6" cy="283.3" r="4.74" fill="#2a38e6"/><path d="M239.4,301.1L220.0,323.7" stroke="#ececec" stroke-width="9.5"/><circle cx="220.0" cy="323.7" r="4.74" fill="#ececec"/><path d="M238.4,242.7L246.5,263.0" stroke="#ececec" stroke-width="9.5"/><circle cx="238.4" cy="242.7" r="4.74" fill="#ececec"/><path d="M246.4,262.6L254.6,283.3" stroke="#2a38e6" stroke-width="9.5"/><circle cx="254.6" cy="283.3" r="4.74" fill="#2a38e6"/><path d="M217.4,235.2L224.8,237.6" stroke="#d1b237" stroke-width="4.4"/><circle cx="217.4" cy="235.2" r="2.22" fill="#d1b237"/><path d="M224.6,237.6L238.7,242.3" stroke="#cbcbcb" stroke-width="4.4"/><circle cx="238.7" cy="242.3" r="2.22" fill="#cbcbcb"/><path d="M195.2,327.0L205.2,325.5" stroke="#d1b237" stroke-width="4.4"/><circle cx="195.2" cy="327.0" r="2.22" fill="#d1b237"/><path d="M205.0,325.5L220.2,323.3" stroke="#c3c3c3" stroke-width="4.4"/><circle cx="220.2" cy="323.3" r="2.22" fill="#c3c3c3"/><path d="M254.9,282.9L239.3,301.1" stroke="#3542e7" stroke-width="4.4"/><circle cx="254.9" cy="282.9" r="2.22" fill="#3542e7"/><path d="M239.6,300.7L220.2,323.3" stroke="#ededed" stroke-width="4.4"/><circle cx="220.2" cy="323.3" r="2.22" fill="#ededed"/><path d="M238.7,242.3L246.8,262.6" stroke="#ededed" stroke-width="4.4"/><circle cx="238.7" cy="242.3" r="2.22" fill="#ededed"/><path d="M246.6,262.2L254.9,282.9" stroke="#3542e7" stroke-width="4.4"/><circle cx="254.9" cy="282.9" r="2.22" fill="#3542e7"/><path d="M217.4,235.2L224.8,237.6" stroke="#d5b947" stroke-width="2.5"/><circle cx="217.4" cy="235.2" r="1.26" fill="#d5b947"/><path d="M224.6,237.6L238.7,242.3" stroke="#cfcfcf" stroke-width="2.5"/><circle cx="238.7" cy="242.3" r="1.26" fill="#cfcfcf"/><path d="M195.2,327.0L205.2,325.5" stroke="#d5b947" stroke-width="2.5"/><circle cx="195.2" cy="327.0" r="1.26" fill="#d5b947"/><path d="M205.0,325.5L220.2,323.3" stroke="#c8c8c8" stroke-width="2.5"/><circle cx="220.2" cy="323.3" r="1.26" fill="#c8c8c8"/><path d="M254.9,282.9L239.3,301.1" stroke="#4652e9" stroke-width="2.5"/><circle cx="254.9" cy="282.9" r="1.26" fill="#4652e9"/><path d="M239.6,300.7L220.2,323.3" stroke="#eeeeee" stroke-width="2.5"/><circle cx="220.2" cy="323.3" r="1.26" fill="#eeeeee"/><path d="M238.7,242.3L246.8,262.6" stroke="#eeeeee" stroke-width="2.5"/><circle cx="238.7" cy="242.3" r="1.26" fill="#eeeeee"/><path d="M246.6,262.2L254.9,282.9" stroke="#4652e9" stroke-width="2.5"/><circle cx="254.9" cy="282.9" r="1.26" fill="#4652e9"/><path d="M217.4,235.2L224.8,237.6" stroke="#dbc363" stroke-width="1.2"/><circle cx="217.4" cy="235.2" r="0.59" fill="#dbc363"/><path d="M224.6,237.6L238.7,242.3" stroke="#d6d6d6" stroke-width="1.2"/><circle cx="238.7" cy="242.3" r="0.59" fill="#d6d6d6"/><path d="M195.2,327.0L205.2,325.5" stroke="#dbc363" stroke-width="1.2"/><circle cx="195.2" cy="327.0" r="0.59" fill="#dbc363"/><path d="M205.0,325.5L220.2,323.3" stroke="#d0d0d0" stroke-width="1.2"/><circle cx="220.2" cy="323.3" r="0.59" fill="#d0d0d0"/><path d="M254.9,282.9L239.3,301.1" stroke="#616cec" stroke-width="1.2"/><circle cx="254.9" cy="282.9" r="0.59" fill="#616cec"/><path d="M239.6,300.7L220.2,323.3" stroke="#f1f1f1" stroke-width="1.2"/><circle cx="220.2" cy="323.3" r="0.59" fill="#f1f1f1"/><path d="M238.7,242.3L246.8,262.6" stroke="#f1f1f1" stroke-width="1.2"/><circle cx="238.7" cy="242.3" r="0.59" fill="#f1f1f1"/><path d="M246.6,262.2L254.9,282.9" stroke="#616cec" stroke-width="1.2"/><circle cx="254.9" cy="282.9" r="0.59" fill="#616cec"/></g>
<g fill="none"><path d="M371.5,194.4L366.1,237.9" stroke="#783e00" stroke-width="15.4"/><circle cx="371.5" cy="194.4" r="7.70" fill="#783e00"/><path d="M366.2,237.1L362.1,270.0" stroke="#5d2e00" stroke-width="15.4"/><path d="M371.7,194.1L366.3,237.6" stroke="#a45600" stroke-width="14.5"/><circle cx="371.7" cy="194.1" r="7.24" fill="#a45600"/><path d="M366.4,236.8L362.3,269.7" stroke="#7f3f00" stroke-width="14.5"/><path d="M371.9,193.7L366.5,237.2" stroke="#cb6a00" stroke-width="13.2"/><circle cx="371.9" cy="193.7" r="6.62" fill="#cb6a00"/><path d="M366.6,236.4L362.5,269.3" stroke="#9d4e00" stroke-width="13.2"/><path d="M372.2,193.2L366.8,236.6" stroke="#e27600" stroke-width="11.7"/><circle cx="372.2" cy="193.2" r="5.85" fill="#e27600"/><path d="M366.9,235.9L362.8,268.8" stroke="#af5700" stroke-width="11.7"/><path d="M372.6,192.6L367.2,236.0" stroke="#ee7c00" stroke-width="9.9"/><circle cx="372.6" cy="192.6" r="4.93" fill="#ee7c00"/><path d="M367.2,235.3L363.2,268.2" stroke="#b85c00" stroke-width="9.9"/><path d="M372.8,192.1L367.4,235.6" stroke="#ef830d" stroke-width="4.6"/><circle cx="372.8" cy="192.1" r="2.31" fill="#ef830d"/><path d="M367.5,234.8L363.4,267.7" stroke="#b95e03" stroke-width="4.6"/><path d="M372.8,192.1L367.4,235.6" stroke="#f08d21" stroke-width="2.6"/><circle cx="372.8" cy="192.1" r="1.31" fill="#f08d21"/><path d="M367.5,234.8L363.4,267.7" stroke="#ba6108" stroke-width="2.6"/><path d="M372.8,192.1L367.4,235.6" stroke="#f29e42" stroke-width="1.2"/><circle cx="372.8" cy="192.1" r="0.62" fill="#f29e42"/><path d="M367.5,234.8L363.4,267.7" stroke="#bd6711" stroke-width="1.2"/></g>
<g fill="none"><circle cx="362.1" cy="270.0" r="7.70" fill="#7b4200"/><circle cx="362.3" cy="269.7" r="7.24" fill="#a85a00"/><circle cx="362.5" cy="269.3" r="6.62" fill="#d06f00"/><circle cx="362.8" cy="268.8" r="5.85" fill="#e87c00"/><circle cx="363.2" cy="268.2" r="4.93" fill="#f48200"/><circle cx="363.4" cy="267.7" r="2.31" fill="#f5880d"/><circle cx="363.4" cy="267.7" r="1.31" fill="#f59221"/><circle cx="363.4" cy="267.7" r="0.62" fill="#f7a242"/></g>
<circle cx="463.4" cy="274.8" r="23.8" fill="url(#sg9)"/>
<path d="M439.1,273.2L443.1,273.6" stroke="#bcb800" stroke-width="5.8" stroke-linecap="round"/><path d="M439.1,273.2L443.1,273.6" stroke="#f6f620" stroke-width="4.2" stroke-linecap="round"/>
<path d="M441.6,273.4l4.6,0.3" stroke="#2a2aa8" stroke-width="5.4" stroke-linecap="round"/>
<path d="M469.0,281.0l3.8,4.0" stroke="#2a2aa8" stroke-width="5.4" stroke-linecap="round"/>
<circle cx="462.7" cy="228.8" r="23.2" fill="url(#sg10)" opacity="0.93"/>
<path d="M260.8,288.8L264.6,288.0" stroke="#bcb800" stroke-width="6.4" stroke-linecap="round"/><path d="M260.8,288.8L264.6,288.0" stroke="#f6f620" stroke-width="4.8" stroke-linecap="round"/>
<path d="M277.8,285.4L281.6,284.6" stroke="#bcb800" stroke-width="6.4" stroke-linecap="round"/><path d="M277.8,285.4L281.6,284.6" stroke="#f6f620" stroke-width="4.8" stroke-linecap="round"/>
<path d="M295.7,281.9L299.5,281.3" stroke="#bcb800" stroke-width="6.4" stroke-linecap="round"/><path d="M295.7,281.9L299.5,281.3" stroke="#f6f620" stroke-width="4.8" stroke-linecap="round"/>
<path d="M313.4,278.8L317.2,278.2" stroke="#bcb800" stroke-width="6.4" stroke-linecap="round"/><path d="M313.4,278.8L317.2,278.2" stroke="#f6f620" stroke-width="4.8" stroke-linecap="round"/>
<path d="M331.8,275.4L335.6,274.6" stroke="#bcb800" stroke-width="6.4" stroke-linecap="round"/><path d="M331.8,275.4L335.6,274.6" stroke="#f6f620" stroke-width="4.8" stroke-linecap="round"/>
<path d="M348.6,272.2L352.4,271.4" stroke="#bcb800" stroke-width="6.4" stroke-linecap="round"/><path d="M348.6,272.2L352.4,271.4" stroke="#f6f620" stroke-width="4.8" stroke-linecap="round"/>
<path d="M382.4,270.1L386.2,270.3" stroke="#bcb800" stroke-width="6.6" stroke-linecap="round"/><path d="M382.4,270.1L386.2,270.3" stroke="#f6f620" stroke-width="5.0" stroke-linecap="round"/>
<path d="M400.9,271.5L404.7,271.7" stroke="#bcb800" stroke-width="6.6" stroke-linecap="round"/><path d="M400.9,271.5L404.7,271.7" stroke="#f6f620" stroke-width="5.0" stroke-linecap="round"/>
<path d="M420.5,272.7L424.3,272.9" stroke="#bcb800" stroke-width="6.6" stroke-linecap="round"/><path d="M420.5,272.7L424.3,272.9" stroke="#f6f620" stroke-width="5.0" stroke-linecap="round"/>
<path d="M482.0,295.0L485.4,298.6" stroke="#bcb800" stroke-width="5.8" stroke-linecap="round"/><path d="M482.0,295.0L485.4,298.6" stroke="#f6f620" stroke-width="4.2" stroke-linecap="round"/>
<path d="M494.7,308.4L498.1,312.0" stroke="#bcb800" stroke-width="5.8" stroke-linecap="round"/><path d="M494.7,308.4L498.1,312.0" stroke="#f6f620" stroke-width="4.2" stroke-linecap="round"/>
<path d="M507.1,322.1L510.5,325.9" stroke="#bcb800" stroke-width="5.8" stroke-linecap="round"/><path d="M507.1,322.1L510.5,325.9" stroke="#f6f620" stroke-width="4.2" stroke-linecap="round"/>
<path d="M557.1,310.2L559.1,308.4" stroke="#bcb800" stroke-width="5.6" stroke-linecap="round"/><path d="M557.1,310.2L559.1,308.4" stroke="#f6f620" stroke-width="4.0" stroke-linecap="round"/>
<path d="M567.0,301.6L569.0,299.8" stroke="#bcb800" stroke-width="5.6" stroke-linecap="round"/><path d="M567.0,301.6L569.0,299.8" stroke="#f6f620" stroke-width="4.0" stroke-linecap="round"/>
<path d="M577.0,291.7L579.0,289.9" stroke="#bcb800" stroke-width="5.6" stroke-linecap="round"/><path d="M577.0,291.7L579.0,289.9" stroke="#f6f620" stroke-width="4.0" stroke-linecap="round"/>
<path d="M588.4,281.7L590.4,279.9" stroke="#bcb800" stroke-width="5.6" stroke-linecap="round"/><path d="M588.4,281.7L590.4,279.9" stroke="#f6f620" stroke-width="4.0" stroke-linecap="round"/>
<path d="M599.3,271.8L601.1,270.0" stroke="#bcb800" stroke-width="5.6" stroke-linecap="round"/><path d="M599.3,271.8L601.1,270.0" stroke="#f6f620" stroke-width="4.0" stroke-linecap="round"/>
<path d="M608.9,262.4L610.7,260.6" stroke="#bcb800" stroke-width="5.6" stroke-linecap="round"/><path d="M608.9,262.4L610.7,260.6" stroke="#f6f620" stroke-width="4.0" stroke-linecap="round"/>
<path d="M629.9,256.5L633.7,256.7" stroke="#bcb800" stroke-width="6.2" stroke-linecap="round"/><path d="M629.9,256.5L633.7,256.7" stroke="#f6f620" stroke-width="4.6" stroke-linecap="round"/>
<path d="M647.8,257.3L651.6,257.5" stroke="#bcb800" stroke-width="6.2" stroke-linecap="round"/><path d="M647.8,257.3L651.6,257.5" stroke="#f6f620" stroke-width="4.6" stroke-linecap="round"/>
<path d="M665.5,258.1L669.3,258.3" stroke="#bcb800" stroke-width="6.2" stroke-linecap="round"/><path d="M665.5,258.1L669.3,258.3" stroke="#f6f620" stroke-width="4.6" stroke-linecap="round"/>
<path d="M683.2,258.9L687.0,259.1" stroke="#bcb800" stroke-width="6.2" stroke-linecap="round"/><path d="M683.2,258.9L687.0,259.1" stroke="#f6f620" stroke-width="4.6" stroke-linecap="round"/>
<g fill="none"><path d="M582.9,373.3L623.5,381.3" stroke="#790404" stroke-width="15.3"/><circle cx="582.9" cy="373.3" r="7.65" fill="#790404"/><circle cx="623.5" cy="381.3" r="7.65" fill="#790404"/><path d="M585.9,359.4L582.9,373.3" stroke="#470000" stroke-width="15.3"/><circle cx="585.9" cy="359.4" r="7.65" fill="#470000"/><circle cx="582.9" cy="373.3" r="7.65" fill="#470000"/><path d="M549.7,333.6L585.9,359.4" stroke="#790404" stroke-width="15.3"/><circle cx="549.7" cy="333.6" r="7.65" fill="#790404"/><circle cx="585.9" cy="359.4" r="7.65" fill="#790404"/><path d="M517.2,332.4L549.7,333.6" stroke="#710202" stroke-width="15.3"/><circle cx="517.2" cy="332.4" r="7.65" fill="#710202"/><circle cx="549.7" cy="333.6" r="7.65" fill="#710202"/><path d="M583.0,373.0L623.6,381.0" stroke="#a60606" stroke-width="14.4"/><circle cx="583.0" cy="373.0" r="7.19" fill="#a60606"/><circle cx="623.6" cy="381.0" r="7.19" fill="#a60606"/><path d="M586.1,359.1L583.0,373.0" stroke="#610000" stroke-width="14.4"/><circle cx="586.1" cy="359.1" r="7.19" fill="#610000"/><circle cx="583.0" cy="373.0" r="7.19" fill="#610000"/><path d="M549.9,333.3L586.1,359.1" stroke="#a60606" stroke-width="14.4"/><circle cx="549.9" cy="333.3" r="7.19" fill="#a60606"/><circle cx="586.1" cy="359.1" r="7.19" fill="#a60606"/><path d="M517.4,332.1L549.9,333.3" stroke="#9b0303" stroke-width="14.4"/><circle cx="517.4" cy="332.1" r="7.19" fill="#9b0303"/><circle cx="549.9" cy="333.3" r="7.19" fill="#9b0303"/><path d="M583.3,372.6L623.9,380.6" stroke="#cc0707" stroke-width="13.2"/><circle cx="583.3" cy="372.6" r="6.58" fill="#cc0707"/><circle cx="623.9" cy="380.6" r="6.58" fill="#cc0707"/><path d="M586.3,358.7L583.3,372.6" stroke="#770000" stroke-width="13.2"/><circle cx="586.3" cy="358.7" r="6.58" fill="#770000"/><circle cx="583.3" cy="372.6" r="6.58" fill="#770000"/><path d="M550.1,332.9L586.3,358.7" stroke="#cc0707" stroke-width="13.2"/><circle cx="550.1" cy="332.9" r="6.58" fill="#cc0707"/><circle cx="586.3" cy="358.7" r="6.58" fill="#cc0707"/><path d="M517.6,331.7L550.1,332.9" stroke="#bf0303" stroke-width="13.2"/><circle cx="517.6" cy="331.7" r="6.58" fill="#bf0303"/><circle cx="550.1" cy="332.9" r="6.58" fill="#bf0303"/><path d="M583.6,372.1L624.2,380.0" stroke="#e40808" stroke-width="11.6"/><circle cx="583.6" cy="372.1" r="5.81" fill="#e40808"/><circle cx="624.2" cy="380.0" r="5.81" fill="#e40808"/><path d="M586.6,358.2L583.6,372.1" stroke="#850000" stroke-width="11.6"/><circle cx="586.6" cy="358.2" r="5.81" fill="#850000"/><circle cx="583.6" cy="372.1" r="5.81" fill="#850000"/><path d="M550.4,332.4L586.6,358.2" stroke="#e40808" stroke-width="11.6"/><circle cx="550.4" cy="332.4" r="5.81" fill="#e40808"/><circle cx="586.6" cy="358.2" r="5.81" fill="#e40808"/><path d="M517.9,331.2L550.4,332.4" stroke="#d50404" stroke-width="11.6"/><circle cx="517.9" cy="331.2" r="5.81" fill="#d50404"/><circle cx="550.4" cy="332.4" r="5.81" fill="#d50404"/><path d="M583.9,371.5L624.5,379.4" stroke="#f00808" stroke-width="9.8"/><circle cx="583.9" cy="371.5" r="4.90" fill="#f00808"/><circle cx="624.5" cy="379.4" r="4.90" fill="#f00808"/><path d="M586.9,357.5L583.9,371.5" stroke="#8c0000" stroke-width="9.8"/><circle cx="586.9" cy="357.5" r="4.90" fill="#8c0000"/><circle cx="583.9" cy="371.5" r="4.90" fill="#8c0000"/><path d="M550.7,331.8L586.9,357.5" stroke="#f00808" stroke-width="9.8"/><circle cx="550.7" cy="331.8" r="4.90" fill="#f00808"/><circle cx="586.9" cy="357.5" r="4.90" fill="#f00808"/><path d="M518.2,330.6L550.7,331.8" stroke="#e00404" stroke-width="9.8"/><circle cx="518.2" cy="330.6" r="4.90" fill="#e00404"/><circle cx="550.7" cy="331.8" r="4.90" fill="#e00404"/><path d="M584.2,371.1L624.8,379.0" stroke="#f11414" stroke-width="4.6"/><circle cx="584.2" cy="371.1" r="2.29" fill="#f11414"/><circle cx="624.8" cy="379.0" r="2.29" fill="#f11414"/><path d="M587.2,357.1L584.2,371.1" stroke="#8d0303" stroke-width="4.6"/><circle cx="587.2" cy="357.1" r="2.29" fill="#8d0303"/><circle cx="584.2" cy="371.1" r="2.29" fill="#8d0303"/><path d="M551.0,331.3L587.2,357.1" stroke="#f11414" stroke-width="4.6"/><circle cx="551.0" cy="331.3" r="2.29" fill="#f11414"/><circle cx="587.2" cy="357.1" r="2.29" fill="#f11414"/><path d="M518.5,330.1L551.0,331.3" stroke="#e21111" stroke-width="4.6"/><circle cx="518.5" cy="330.1" r="2.29" fill="#e21111"/><circle cx="551.0" cy="331.3" r="2.29" fill="#e21111"/><path d="M584.2,371.1L624.8,379.0" stroke="#f22828" stroke-width="2.6"/><circle cx="584.2" cy="371.1" r="1.30" fill="#f22828"/><circle cx="624.8" cy="379.0" r="1.30" fill="#f22828"/><path d="M587.2,357.1L584.2,371.1" stroke="#900808" stroke-width="2.6"/><circle cx="587.2" cy="357.1" r="1.30" fill="#900808"/><circle cx="584.2" cy="371.1" r="1.30" fill="#900808"/><path d="M551.0,331.3L587.2,357.1" stroke="#f22828" stroke-width="2.6"/><circle cx="551.0" cy="331.3" r="1.30" fill="#f22828"/><circle cx="587.2" cy="357.1" r="1.30" fill="#f22828"/><path d="M518.5,330.1L551.0,331.3" stroke="#e42525" stroke-width="2.6"/><circle cx="518.5" cy="330.1" r="1.30" fill="#e42525"/><circle cx="551.0" cy="331.3" r="1.30" fill="#e42525"/><path d="M584.2,371.1L624.8,379.0" stroke="#f44848" stroke-width="1.2"/><circle cx="584.2" cy="371.1" r="0.61" fill="#f44848"/><circle cx="624.8" cy="379.0" r="0.61" fill="#f44848"/><path d="M587.2,357.1L584.2,371.1" stroke="#931111" stroke-width="1.2"/><circle cx="587.2" cy="357.1" r="0.61" fill="#931111"/><circle cx="584.2" cy="371.1" r="0.61" fill="#931111"/><path d="M551.0,331.3L587.2,357.1" stroke="#f44848" stroke-width="1.2"/><circle cx="551.0" cy="331.3" r="0.61" fill="#f44848"/><circle cx="587.2" cy="357.1" r="0.61" fill="#f44848"/><path d="M518.5,330.1L551.0,331.3" stroke="#e84545" stroke-width="1.2"/><circle cx="518.5" cy="330.1" r="0.61" fill="#e84545"/><circle cx="551.0" cy="331.3" r="0.61" fill="#e84545"/></g>
<g fill="none"><path d="M549.7,333.6L551.4,315.7" stroke="#510000" stroke-width="16.6"/><circle cx="549.7" cy="333.6" r="8.30" fill="#510000"/><path d="M549.9,333.3L551.6,315.4" stroke="#6e0000" stroke-width="15.6"/><circle cx="549.9" cy="333.3" r="7.80" fill="#6e0000"/><path d="M550.1,332.8L551.8,315.0" stroke="#880000" stroke-width="14.3"/><circle cx="550.1" cy="332.8" r="7.14" fill="#880000"/><path d="M550.4,332.3L552.1,314.4" stroke="#980000" stroke-width="12.6"/><circle cx="550.4" cy="332.3" r="6.31" fill="#980000"/><path d="M550.8,331.6L552.5,313.8" stroke="#a00000" stroke-width="10.6"/><circle cx="550.8" cy="331.6" r="5.31" fill="#a00000"/><path d="M551.1,331.1L552.8,313.3" stroke="#a10303" stroke-width="5.0"/><circle cx="551.1" cy="331.1" r="2.49" fill="#a10303"/><path d="M551.1,331.1L552.8,313.3" stroke="#a30808" stroke-width="2.8"/><circle cx="551.1" cy="331.1" r="1.41" fill="#a30808"/><path d="M551.1,331.1L552.8,313.3" stroke="#a61111" stroke-width="1.3"/><circle cx="551.1" cy="331.1" r="0.66" fill="#a61111"/></g>
<g fill="none"><circle cx="551.4" cy="315.7" r="8.30" fill="#7d0606"/><circle cx="551.6" cy="315.4" r="7.80" fill="#ab0808"/><circle cx="551.8" cy="315.0" r="7.14" fill="#d30a0a"/><circle cx="552.1" cy="314.4" r="6.31" fill="#ec0b0b"/><circle cx="552.5" cy="313.8" r="5.31" fill="#f80c0c"/><circle cx="552.8" cy="313.3" r="2.49" fill="#f81818"/><circle cx="552.8" cy="313.3" r="1.41" fill="#f92c2c"/><circle cx="552.8" cy="313.3" r="0.66" fill="#fa4b4b"/></g>
<g fill="none"><path d="M642.8,196.8L613.2,235.2" stroke="#0e474b" stroke-width="15.5"/><circle cx="642.8" cy="196.8" r="7.75" fill="#0e474b"/><circle cx="613.2" cy="235.2" r="7.75" fill="#0e474b"/><path d="M613.2,235.2L616.2,255.5" stroke="#0a2f33" stroke-width="16.0"/><circle cx="613.2" cy="235.2" r="8.00" fill="#0a2f33"/><circle cx="616.2" cy="255.5" r="8.00" fill="#0a2f33"/><path d="M643.0,196.5L613.4,234.9" stroke="#136166" stroke-width="14.6"/><circle cx="643.0" cy="196.5" r="7.28" fill="#136166"/><circle cx="613.4" cy="234.9" r="7.28" fill="#136166"/><path d="M613.4,234.9L616.4,255.1" stroke="#0d4146" stroke-width="15.0"/><circle cx="613.4" cy="234.9" r="7.52" fill="#0d4146"/><circle cx="616.4" cy="255.1" r="7.52" fill="#0d4146"/><path d="M643.2,196.1L613.6,234.5" stroke="#18777e" stroke-width="13.3"/><circle cx="643.2" cy="196.1" r="6.67" fill="#18777e"/><circle cx="613.6" cy="234.5" r="6.67" fill="#18777e"/><path d="M613.6,234.5L616.6,254.7" stroke="#105057" stroke-width="13.8"/><circle cx="613.6" cy="234.5" r="6.88" fill="#105057"/><circle cx="616.6" cy="254.7" r="6.88" fill="#105057"/><path d="M643.5,195.6L613.9,234.0" stroke="#1b858d" stroke-width="11.8"/><circle cx="643.5" cy="195.6" r="5.89" fill="#1b858d"/><circle cx="613.9" cy="234.0" r="5.89" fill="#1b858d"/><path d="M613.9,234.0L616.9,254.2" stroke="#125961" stroke-width="12.2"/><circle cx="613.9" cy="234.0" r="6.08" fill="#125961"/><circle cx="616.9" cy="254.2" r="6.08" fill="#125961"/><path d="M643.9,195.0L614.2,233.4" stroke="#1c8c94" stroke-width="9.9"/><circle cx="643.9" cy="195.0" r="4.96" fill="#1c8c94"/><circle cx="614.2" cy="233.4" r="4.96" fill="#1c8c94"/><path d="M614.3,233.3L617.3,253.5" stroke="#135e66" stroke-width="10.2"/><circle cx="614.3" cy="233.3" r="5.12" fill="#135e66"/><circle cx="617.3" cy="253.5" r="5.12" fill="#135e66"/><path d="M644.1,194.5L614.5,232.9" stroke="#279299" stroke-width="4.6"/><circle cx="644.1" cy="194.5" r="2.32" fill="#279299"/><circle cx="614.5" cy="232.9" r="2.32" fill="#279299"/><path d="M614.6,232.9L617.6,253.1" stroke="#166068" stroke-width="4.8"/><circle cx="614.6" cy="232.9" r="2.40" fill="#166068"/><circle cx="617.6" cy="253.1" r="2.40" fill="#166068"/><path d="M644.1,194.5L614.5,232.9" stroke="#3a9ba2" stroke-width="2.6"/><circle cx="644.1" cy="194.5" r="1.32" fill="#3a9ba2"/><circle cx="614.5" cy="232.9" r="1.32" fill="#3a9ba2"/><path d="M614.6,232.9L617.6,253.1" stroke="#1b636b" stroke-width="2.7"/><circle cx="614.6" cy="232.9" r="1.36" fill="#1b636b"/><circle cx="617.6" cy="253.1" r="1.36" fill="#1b636b"/><path d="M644.1,194.5L614.5,232.9" stroke="#57aab0" stroke-width="1.2"/><circle cx="644.1" cy="194.5" r="0.62" fill="#57aab0"/><circle cx="614.5" cy="232.9" r="0.62" fill="#57aab0"/><path d="M614.6,232.9L617.6,253.1" stroke="#226870" stroke-width="1.3"/><circle cx="614.6" cy="232.9" r="0.64" fill="#226870"/><circle cx="617.6" cy="253.1" r="0.64" fill="#226870"/></g>
<g fill="none"><path d="M739.5,255.9L753.2,220.9" stroke="#3a6f04" stroke-width="15.8"/><circle cx="739.5" cy="255.9" r="7.90" fill="#3a6f04"/><circle cx="753.2" cy="220.9" r="7.90" fill="#3a6f04"/><path d="M701.3,258.8L739.5,255.9" stroke="#3a6f04" stroke-width="15.8"/><circle cx="701.3" cy="258.8" r="7.90" fill="#3a6f04"/><circle cx="739.5" cy="255.9" r="7.90" fill="#3a6f04"/><path d="M739.5,255.9L764.9,295.5" stroke="#3a6f04" stroke-width="15.8"/><circle cx="739.5" cy="255.9" r="7.90" fill="#3a6f04"/><circle cx="764.9" cy="295.5" r="7.90" fill="#3a6f04"/><path d="M764.9,295.5L746.4,330.0" stroke="#356902" stroke-width="15.8"/><circle cx="764.9" cy="295.5" r="7.90" fill="#356902"/><circle cx="746.4" cy="330.0" r="7.90" fill="#356902"/><path d="M746.4,330.0L774.7,370.1" stroke="#3a6f04" stroke-width="15.8"/><circle cx="746.4" cy="330.0" r="7.90" fill="#3a6f04"/><circle cx="774.7" cy="370.1" r="7.90" fill="#3a6f04"/><path d="M739.7,255.6L753.3,220.5" stroke="#509806" stroke-width="14.9"/><circle cx="739.7" cy="255.6" r="7.43" fill="#509806"/><circle cx="753.3" cy="220.5" r="7.43" fill="#509806"/><path d="M701.5,258.4L739.7,255.6" stroke="#509806" stroke-width="14.9"/><circle cx="701.5" cy="258.4" r="7.43" fill="#509806"/><circle cx="739.7" cy="255.6" r="7.43" fill="#509806"/><path d="M739.7,255.6L765.1,295.2" stroke="#509806" stroke-width="14.9"/><circle cx="739.7" cy="255.6" r="7.43" fill="#509806"/><circle cx="765.1" cy="295.2" r="7.43" fill="#509806"/><path d="M765.1,295.2L746.6,329.7" stroke="#499003" stroke-width="14.9"/><circle cx="765.1" cy="295.2" r="7.43" fill="#499003"/><circle cx="746.6" cy="329.7" r="7.43" fill="#499003"/><path d="M746.6,329.7L774.9,369.8" stroke="#509806" stroke-width="14.9"/><circle cx="746.6" cy="329.7" r="7.43" fill="#509806"/><circle cx="774.9" cy="369.8" r="7.43" fill="#509806"/><path d="M739.9,255.2L753.6,220.1" stroke="#63bb07" stroke-width="13.6"/><circle cx="739.9" cy="255.2" r="6.79" fill="#63bb07"/><circle cx="753.6" cy="220.1" r="6.79" fill="#63bb07"/><path d="M701.7,258.0L739.9,255.2" stroke="#63bb07" stroke-width="13.6"/><circle cx="701.7" cy="258.0" r="6.79" fill="#63bb07"/><circle cx="739.9" cy="255.2" r="6.79" fill="#63bb07"/><path d="M739.9,255.2L765.4,294.7" stroke="#63bb07" stroke-width="13.6"/><circle cx="739.9" cy="255.2" r="6.79" fill="#63bb07"/><circle cx="765.4" cy="294.7" r="6.79" fill="#63bb07"/><path d="M765.4,294.7L746.8,329.3" stroke="#5ab103" stroke-width="13.6"/><circle cx="765.4" cy="294.7" r="6.79" fill="#5ab103"/><circle cx="746.8" cy="329.3" r="6.79" fill="#5ab103"/><path d="M746.8,329.3L775.1,369.4" stroke="#63bb07" stroke-width="13.6"/><circle cx="746.8" cy="329.3" r="6.79" fill="#63bb07"/><circle cx="775.1" cy="369.4" r="6.79" fill="#63bb07"/><path d="M740.2,254.6L753.9,219.6" stroke="#6ed108" stroke-width="12.0"/><circle cx="740.2" cy="254.6" r="6.00" fill="#6ed108"/><circle cx="753.9" cy="219.6" r="6.00" fill="#6ed108"/><path d="M702.0,257.5L740.2,254.6" stroke="#6ed108" stroke-width="12.0"/><circle cx="702.0" cy="257.5" r="6.00" fill="#6ed108"/><circle cx="740.2" cy="254.6" r="6.00" fill="#6ed108"/><path d="M740.2,254.6L765.7,294.2" stroke="#6ed108" stroke-width="12.0"/><circle cx="740.2" cy="254.6" r="6.00" fill="#6ed108"/><circle cx="765.7" cy="294.2" r="6.00" fill="#6ed108"/><path d="M765.7,294.2L747.1,328.7" stroke="#65c604" stroke-width="12.0"/><circle cx="765.7" cy="294.2" r="6.00" fill="#65c604"/><circle cx="747.1" cy="328.7" r="6.00" fill="#65c604"/><path d="M747.1,328.7L775.4,368.8" stroke="#6ed108" stroke-width="12.0"/><circle cx="747.1" cy="328.7" r="6.00" fill="#6ed108"/><circle cx="775.4" cy="368.8" r="6.00" fill="#6ed108"/><path d="M740.6,254.0L754.2,219.0" stroke="#74dc08" stroke-width="10.1"/><circle cx="740.6" cy="254.0" r="5.06" fill="#74dc08"/><circle cx="754.2" cy="219.0" r="5.06" fill="#74dc08"/><path d="M702.4,256.9L740.6,254.0" stroke="#74dc08" stroke-width="10.1"/><circle cx="702.4" cy="256.9" r="5.06" fill="#74dc08"/><circle cx="740.6" cy="254.0" r="5.06" fill="#74dc08"/><path d="M740.6,254.0L766.0,293.6" stroke="#74dc08" stroke-width="10.1"/><circle cx="740.6" cy="254.0" r="5.06" fill="#74dc08"/><circle cx="766.0" cy="293.6" r="5.06" fill="#74dc08"/><path d="M766.0,293.6L747.5,328.1" stroke="#6ad004" stroke-width="10.1"/><circle cx="766.0" cy="293.6" r="5.06" fill="#6ad004"/><circle cx="747.5" cy="328.1" r="5.06" fill="#6ad004"/><path d="M747.5,328.1L775.8,368.2" stroke="#74dc08" stroke-width="10.1"/><circle cx="747.5" cy="328.1" r="5.06" fill="#74dc08"/><circle cx="775.8" cy="368.2" r="5.06" fill="#74dc08"/><path d="M740.9,253.5L754.5,218.5" stroke="#7bde14" stroke-width="4.7"/><circle cx="740.9" cy="253.5" r="2.37" fill="#7bde14"/><circle cx="754.5" cy="218.5" r="2.37" fill="#7bde14"/><path d="M702.6,256.4L740.9,253.5" stroke="#7bde14" stroke-width="4.7"/><circle cx="702.6" cy="256.4" r="2.37" fill="#7bde14"/><circle cx="740.9" cy="253.5" r="2.37" fill="#7bde14"/><path d="M740.9,253.5L766.3,293.1" stroke="#7bde14" stroke-width="4.7"/><circle cx="740.9" cy="253.5" r="2.37" fill="#7bde14"/><circle cx="766.3" cy="293.1" r="2.37" fill="#7bde14"/><path d="M766.3,293.1L747.8,327.6" stroke="#71d211" stroke-width="4.7"/><circle cx="766.3" cy="293.1" r="2.37" fill="#71d211"/><circle cx="747.8" cy="327.6" r="2.37" fill="#71d211"/><path d="M747.8,327.6L776.1,367.7" stroke="#7bde14" stroke-width="4.7"/><circle cx="747.8" cy="327.6" r="2.37" fill="#7bde14"/><circle cx="776.1" cy="367.7" r="2.37" fill="#7bde14"/><path d="M740.9,253.5L754.5,218.5" stroke="#86e128" stroke-width="2.7"/><circle cx="740.9" cy="253.5" r="1.34" fill="#86e128"/><circle cx="754.5" cy="218.5" r="1.34" fill="#86e128"/><path d="M702.6,256.4L740.9,253.5" stroke="#86e128" stroke-width="2.7"/><circle cx="702.6" cy="256.4" r="1.34" fill="#86e128"/><circle cx="740.9" cy="253.5" r="1.34" fill="#86e128"/><path d="M740.9,253.5L766.3,293.1" stroke="#86e128" stroke-width="2.7"/><circle cx="740.9" cy="253.5" r="1.34" fill="#86e128"/><circle cx="766.3" cy="293.1" r="1.34" fill="#86e128"/><path d="M766.3,293.1L747.8,327.6" stroke="#7dd625" stroke-width="2.7"/><circle cx="766.3" cy="293.1" r="1.34" fill="#7dd625"/><circle cx="747.8" cy="327.6" r="1.34" fill="#7dd625"/><path d="M747.8,327.6L776.1,367.7" stroke="#86e128" stroke-width="2.7"/><circle cx="747.8" cy="327.6" r="1.34" fill="#86e128"/><circle cx="776.1" cy="367.7" r="1.34" fill="#86e128"/><path d="M740.9,253.5L754.5,218.5" stroke="#98e548" stroke-width="1.3"/><circle cx="740.9" cy="253.5" r="0.63" fill="#98e548"/><circle cx="754.5" cy="218.5" r="0.63" fill="#98e548"/><path d="M702.6,256.4L740.9,253.5" stroke="#98e548" stroke-width="1.3"/><circle cx="702.6" cy="256.4" r="0.63" fill="#98e548"/><circle cx="740.9" cy="253.5" r="0.63" fill="#98e548"/><path d="M740.9,253.5L766.3,293.1" stroke="#98e548" stroke-width="1.3"/><circle cx="740.9" cy="253.5" r="0.63" fill="#98e548"/><circle cx="766.3" cy="293.1" r="0.63" fill="#98e548"/><path d="M766.3,293.1L747.8,327.6" stroke="#91dc45" stroke-width="1.3"/><circle cx="766.3" cy="293.1" r="0.63" fill="#91dc45"/><circle cx="747.8" cy="327.6" r="0.63" fill="#91dc45"/><path d="M747.8,327.6L776.1,367.7" stroke="#98e548" stroke-width="1.3"/><circle cx="747.8" cy="327.6" r="0.63" fill="#98e548"/><circle cx="776.1" cy="367.7" r="0.63" fill="#98e548"/></g>
<g fill="none"><path d="M771.2,186.3L793.1,209.6" stroke="#696702" stroke-width="15.8"/><circle cx="771.2" cy="186.3" r="7.90" fill="#696702"/><circle cx="793.1" cy="209.6" r="7.90" fill="#696702"/><path d="M793.1,209.6L822.1,242.4" stroke="#757304" stroke-width="15.2"/><circle cx="793.1" cy="209.6" r="7.60" fill="#757304"/><circle cx="822.1" cy="242.4" r="7.60" fill="#757304"/><path d="M822.1,242.4L850.5,273.7" stroke="#6c6a03" stroke-width="14.8"/><circle cx="822.1" cy="242.4" r="7.40" fill="#6c6a03"/><circle cx="850.5" cy="273.7" r="7.40" fill="#6c6a03"/><path d="M850.5,273.7L876.1,306.4" stroke="#757304" stroke-width="15.0"/><circle cx="850.5" cy="273.7" r="7.50" fill="#757304"/><circle cx="876.1" cy="306.4" r="7.50" fill="#757304"/><path d="M876.1,306.4L898.8,343.3" stroke="#6f6d03" stroke-width="15.4"/><circle cx="876.1" cy="306.4" r="7.70" fill="#6f6d03"/><circle cx="898.8" cy="343.3" r="7.70" fill="#6f6d03"/><path d="M898.8,343.3L936.6,368.3" stroke="#757304" stroke-width="15.8"/><circle cx="898.8" cy="343.3" r="7.90" fill="#757304"/><circle cx="936.6" cy="368.3" r="8.20" fill="#757304"/><path d="M771.4,186.0L793.3,209.3" stroke="#908d03" stroke-width="14.9"/><circle cx="771.4" cy="186.0" r="7.43" fill="#908d03"/><circle cx="793.3" cy="209.3" r="7.43" fill="#908d03"/><path d="M793.2,209.3L822.3,242.1" stroke="#a09d06" stroke-width="14.3"/><circle cx="793.2" cy="209.3" r="7.14" fill="#a09d06"/><circle cx="822.3" cy="242.1" r="7.14" fill="#a09d06"/><path d="M822.3,242.1L850.7,273.4" stroke="#949104" stroke-width="13.9"/><circle cx="822.3" cy="242.1" r="6.96" fill="#949104"/><circle cx="850.7" cy="273.4" r="6.96" fill="#949104"/><path d="M850.7,273.4L876.3,306.1" stroke="#a09d06" stroke-width="14.1"/><circle cx="850.7" cy="273.4" r="7.05" fill="#a09d06"/><circle cx="876.3" cy="306.1" r="7.05" fill="#a09d06"/><path d="M876.3,306.1L899.0,343.0" stroke="#989504" stroke-width="14.5"/><circle cx="876.3" cy="306.1" r="7.24" fill="#989504"/><circle cx="899.0" cy="343.0" r="7.24" fill="#989504"/><path d="M899.0,343.0L936.8,368.0" stroke="#a09d06" stroke-width="14.9"/><circle cx="899.0" cy="343.0" r="7.43" fill="#a09d06"/><circle cx="936.8" cy="368.0" r="7.71" fill="#a09d06"/><path d="M771.6,185.6L793.5,208.8" stroke="#b1ae03" stroke-width="13.6"/><circle cx="771.6" cy="185.6" r="6.79" fill="#b1ae03"/><circle cx="793.5" cy="208.8" r="6.79" fill="#b1ae03"/><path d="M793.5,208.9L822.5,241.7" stroke="#c5c207" stroke-width="13.1"/><circle cx="793.5" cy="208.9" r="6.54" fill="#c5c207"/><circle cx="822.5" cy="241.7" r="6.54" fill="#c5c207"/><path d="M822.5,241.7L850.9,273.0" stroke="#b6b305" stroke-width="12.7"/><circle cx="822.5" cy="241.7" r="6.36" fill="#b6b305"/><circle cx="850.9" cy="273.0" r="6.36" fill="#b6b305"/><path d="M850.9,273.0L876.5,305.7" stroke="#c5c207" stroke-width="12.9"/><circle cx="850.9" cy="273.0" r="6.45" fill="#c5c207"/><circle cx="876.5" cy="305.7" r="6.45" fill="#c5c207"/><path d="M876.5,305.7L899.3,342.6" stroke="#bbb805" stroke-width="13.2"/><circle cx="876.5" cy="305.7" r="6.62" fill="#bbb805"/><circle cx="899.3" cy="342.6" r="6.62" fill="#bbb805"/><path d="M899.3,342.6L937.1,367.6" stroke="#c5c207" stroke-width="13.6"/><circle cx="899.3" cy="342.6" r="6.79" fill="#c5c207"/><circle cx="937.1" cy="367.6" r="7.05" fill="#c5c207"/><path d="M771.9,185.1L793.8,208.3" stroke="#c6c204" stroke-width="12.0"/><circle cx="771.9" cy="185.1" r="6.00" fill="#c6c204"/><circle cx="793.8" cy="208.3" r="6.00" fill="#c6c204"/><path d="M793.8,208.4L822.8,241.2" stroke="#dcd908" stroke-width="11.6"/><circle cx="793.8" cy="208.4" r="5.78" fill="#dcd908"/><circle cx="822.8" cy="241.2" r="5.78" fill="#dcd908"/><path d="M822.8,241.2L851.2,272.5" stroke="#cbc806" stroke-width="11.2"/><circle cx="822.8" cy="241.2" r="5.62" fill="#cbc806"/><circle cx="851.2" cy="272.5" r="5.62" fill="#cbc806"/><path d="M851.2,272.5L876.8,305.2" stroke="#dcd908" stroke-width="11.4"/><circle cx="851.2" cy="272.5" r="5.70" fill="#dcd908"/><circle cx="876.8" cy="305.2" r="5.70" fill="#dcd908"/><path d="M876.8,305.1L899.5,342.1" stroke="#d1cd06" stroke-width="11.7"/><circle cx="876.8" cy="305.1" r="5.85" fill="#d1cd06"/><circle cx="899.5" cy="342.1" r="5.85" fill="#d1cd06"/><path d="M899.6,342.1L937.4,367.1" stroke="#dcd908" stroke-width="12.0"/><circle cx="899.6" cy="342.1" r="6.00" fill="#dcd908"/><circle cx="937.4" cy="367.0" r="6.23" fill="#dcd908"/><path d="M772.3,184.5L794.2,207.7" stroke="#d0cc04" stroke-width="10.1"/><circle cx="772.3" cy="184.5" r="5.06" fill="#d0cc04"/><circle cx="794.2" cy="207.7" r="5.06" fill="#d0cc04"/><path d="M794.1,207.8L823.1,240.6" stroke="#e8e408" stroke-width="9.7"/><circle cx="794.1" cy="207.8" r="4.86" fill="#e8e408"/><circle cx="823.1" cy="240.6" r="4.86" fill="#e8e408"/><path d="M823.1,240.7L851.5,271.9" stroke="#d6d206" stroke-width="9.5"/><circle cx="823.1" cy="240.7" r="4.74" fill="#d6d206"/><circle cx="851.5" cy="271.9" r="4.74" fill="#d6d206"/><path d="M851.6,271.9L877.1,304.6" stroke="#e8e408" stroke-width="9.6"/><circle cx="851.6" cy="271.9" r="4.80" fill="#e8e408"/><circle cx="877.1" cy="304.6" r="4.80" fill="#e8e408"/><path d="M877.2,304.5L899.9,341.5" stroke="#dcd806" stroke-width="9.9"/><circle cx="877.2" cy="304.5" r="4.93" fill="#dcd806"/><circle cx="899.9" cy="341.5" r="4.93" fill="#dcd806"/><path d="M899.9,341.4L937.7,366.4" stroke="#e8e408" stroke-width="10.1"/><circle cx="899.9" cy="341.4" r="5.06" fill="#e8e408"/><circle cx="937.8" cy="366.4" r="5.25" fill="#e8e408"/><path d="M772.5,184.0L794.4,207.2" stroke="#d2cf11" stroke-width="4.7"/><circle cx="772.5" cy="184.0" r="2.37" fill="#d2cf11"/><circle cx="794.4" cy="207.2" r="2.37" fill="#d2cf11"/><path d="M794.4,207.3L823.4,240.2" stroke="#e9e514" stroke-width="4.6"/><circle cx="794.4" cy="207.3" r="2.28" fill="#e9e514"/><circle cx="823.4" cy="240.2" r="2.28" fill="#e9e514"/><path d="M823.4,240.2L851.8,271.5" stroke="#d8d412" stroke-width="4.4"/><circle cx="823.4" cy="240.2" r="2.22" fill="#d8d412"/><circle cx="851.8" cy="271.5" r="2.22" fill="#d8d412"/><path d="M851.8,271.4L877.4,304.1" stroke="#e9e514" stroke-width="4.5"/><circle cx="851.8" cy="271.4" r="2.25" fill="#e9e514"/><circle cx="877.4" cy="304.1" r="2.25" fill="#e9e514"/><path d="M877.4,304.1L900.2,341.0" stroke="#deda12" stroke-width="4.6"/><circle cx="877.4" cy="304.1" r="2.31" fill="#deda12"/><circle cx="900.2" cy="341.0" r="2.31" fill="#deda12"/><path d="M900.2,341.0L938.0,366.0" stroke="#e9e514" stroke-width="4.7"/><circle cx="900.2" cy="341.0" r="2.37" fill="#e9e514"/><circle cx="938.0" cy="365.9" r="2.46" fill="#e9e514"/><path d="M772.5,184.0L794.4,207.2" stroke="#d6d325" stroke-width="2.7"/><circle cx="772.5" cy="184.0" r="1.34" fill="#d6d325"/><circle cx="794.4" cy="207.2" r="1.34" fill="#d6d325"/><path d="M794.4,207.3L823.4,240.2" stroke="#ebe828" stroke-width="2.6"/><circle cx="794.4" cy="207.3" r="1.29" fill="#ebe828"/><circle cx="823.4" cy="240.2" r="1.29" fill="#ebe828"/><path d="M823.4,240.2L851.8,271.5" stroke="#dbd826" stroke-width="2.5"/><circle cx="823.4" cy="240.2" r="1.26" fill="#dbd826"/><circle cx="851.8" cy="271.5" r="1.26" fill="#dbd826"/><path d="M851.8,271.4L877.4,304.1" stroke="#ebe828" stroke-width="2.6"/><circle cx="851.8" cy="271.4" r="1.28" fill="#ebe828"/><circle cx="877.4" cy="304.1" r="1.28" fill="#ebe828"/><path d="M877.4,304.1L900.2,341.0" stroke="#e1dd26" stroke-width="2.6"/><circle cx="877.4" cy="304.1" r="1.31" fill="#e1dd26"/><circle cx="900.2" cy="341.0" r="1.31" fill="#e1dd26"/><path d="M900.2,341.0L938.0,366.0" stroke="#ebe828" stroke-width="2.7"/><circle cx="900.2" cy="341.0" r="1.34" fill="#ebe828"/><circle cx="938.0" cy="365.9" r="1.39" fill="#ebe828"/><path d="M772.5,184.0L794.4,207.2" stroke="#dcd945" stroke-width="1.3"/><circle cx="772.5" cy="184.0" r="0.63" fill="#dcd945"/><circle cx="794.4" cy="207.2" r="0.63" fill="#dcd945"/><path d="M794.4,207.3L823.4,240.2" stroke="#eeeb48" stroke-width="1.2"/><circle cx="794.4" cy="207.3" r="0.61" fill="#eeeb48"/><circle cx="823.4" cy="240.2" r="0.61" fill="#eeeb48"/><path d="M823.4,240.2L851.8,271.5" stroke="#e1de47" stroke-width="1.2"/><circle cx="823.4" cy="240.2" r="0.59" fill="#e1de47"/><circle cx="851.8" cy="271.5" r="0.59" fill="#e1de47"/><path d="M851.8,271.4L877.4,304.1" stroke="#eeeb48" stroke-width="1.2"/><circle cx="851.8" cy="271.4" r="0.60" fill="#eeeb48"/><circle cx="877.4" cy="304.1" r="0.60" fill="#eeeb48"/><path d="M877.4,304.1L900.2,341.0" stroke="#e5e247" stroke-width="1.2"/><circle cx="877.4" cy="304.1" r="0.62" fill="#e5e247"/><circle cx="900.2" cy="341.0" r="0.62" fill="#e5e247"/><path d="M900.2,341.0L938.0,366.0" stroke="#eeeb48" stroke-width="1.3"/><circle cx="900.2" cy="341.0" r="0.63" fill="#eeeb48"/><circle cx="938.0" cy="365.9" r="0.66" fill="#eeeb48"/></g>
<g fill="none"><path d="M793.1,209.6L793.6,198.0" stroke="#474500" stroke-width="16.2"/><circle cx="793.1" cy="209.6" r="8.10" fill="#474500"/><path d="M793.3,209.3L793.8,197.6" stroke="#615e00" stroke-width="15.2"/><circle cx="793.3" cy="209.3" r="7.61" fill="#615e00"/><path d="M793.5,208.8L794.0,197.2" stroke="#777400" stroke-width="13.9"/><circle cx="793.5" cy="208.8" r="6.97" fill="#777400"/><path d="M793.8,208.3L794.3,196.7" stroke="#858100" stroke-width="12.3"/><circle cx="793.8" cy="208.3" r="6.16" fill="#858100"/><path d="M794.2,207.6L794.7,196.0" stroke="#8c8800" stroke-width="10.4"/><circle cx="794.2" cy="207.6" r="5.18" fill="#8c8800"/><path d="M794.5,207.2L795.0,195.5" stroke="#8d8903" stroke-width="4.9"/><circle cx="794.5" cy="207.2" r="2.43" fill="#8d8903"/><path d="M794.5,207.2L795.0,195.5" stroke="#908c08" stroke-width="2.8"/><circle cx="794.5" cy="207.2" r="1.38" fill="#908c08"/><path d="M794.5,207.2L795.0,195.5" stroke="#939011" stroke-width="1.3"/><circle cx="794.5" cy="207.2" r="0.65" fill="#939011"/></g>
<g fill="none"><circle cx="793.6" cy="198.0" r="8.10" fill="#797708"/><circle cx="793.8" cy="197.6" r="7.61" fill="#a6a30b"/><circle cx="794.0" cy="197.2" r="6.97" fill="#ccc90e"/><circle cx="794.3" cy="196.7" r="6.16" fill="#e4e00f"/><circle cx="794.7" cy="196.0" r="5.18" fill="#f0ec10"/><circle cx="795.0" cy="195.5" r="2.43" fill="#f1ed1c"/><circle cx="795.0" cy="195.5" r="1.38" fill="#f2ee2f"/><circle cx="795.0" cy="195.5" r="0.65" fill="#f4f14e"/></g>
<circle cx="756.2" cy="215.1" r="2.7" fill="#b0ac00"/><circle cx="756.4000000000001" cy="214.9" r="1.8" fill="#f2ee20"/>
<circle cx="760.2" cy="207.9" r="2.7" fill="#b0ac00"/><circle cx="760.4000000000001" cy="207.70000000000002" r="1.8" fill="#f2ee20"/>
<circle cx="764.1" cy="200.8" r="2.7" fill="#b0ac00"/><circle cx="764.3000000000001" cy="200.60000000000002" r="1.8" fill="#f2ee20"/>
<circle cx="767.1" cy="194.1" r="2.7" fill="#b0ac00"/><circle cx="767.3000000000001" cy="193.9" r="1.8" fill="#f2ee20"/>
<text transform="translate(270.5,64.8)" font-size="28.5" fill="#ff9c00" textLength="70.6" lengthAdjust="spacingAndGlyphs">C299</text>
<text transform="translate(341.0,71.9)" font-size="19.8" fill="#ff9c00" textLength="33.8" lengthAdjust="spacingAndGlyphs">CpI</text>
<text transform="translate(270.5,114.2)" font-size="28.5" fill="#ff9c00" textLength="70.6" lengthAdjust="spacingAndGlyphs">C169</text>
<text transform="translate(341.0,122.3)" font-size="19.8" fill="#ff9c00" textLength="60.6" lengthAdjust="spacingAndGlyphs">HydA1</text>
<text transform="translate(277.0,163.8)" font-size="28.5" fill="#ff9c00" textLength="96.1" lengthAdjust="spacingAndGlyphs">(A,D,S)</text>
<text transform="translate(451.0,184.6)" font-size="28.5" fill="#0000ff" textLength="116.5" lengthAdjust="spacingAndGlyphs">Wat1120</text>
<text transform="translate(358.5,337.4)" font-size="28.5" fill="#0000ff" textLength="98.5" lengthAdjust="spacingAndGlyphs">Wat826</text>
<text transform="translate(605.5,88.9)" font-size="28.5" fill="#169494" textLength="68.1" lengthAdjust="spacingAndGlyphs">S319</text>
<text transform="translate(673.5,96.8)" font-size="19.8" fill="#169494" textLength="32.7" lengthAdjust="spacingAndGlyphs">CpI</text>
<text transform="translate(603.0,129.4)" font-size="28.5" fill="#169494" textLength="68.6" lengthAdjust="spacingAndGlyphs">S189</text>
<text transform="translate(670.5,137.9)" font-size="19.8" fill="#169494" textLength="60.1" lengthAdjust="spacingAndGlyphs">HydA1</text>
<text transform="translate(621.0,168.8)" font-size="28.5" fill="#169494" textLength="69.7" lengthAdjust="spacingAndGlyphs">(A,D)</text>
<text transform="translate(388.5,420.4)" font-size="28.5" fill="#ff0000" textLength="99.1" lengthAdjust="spacingAndGlyphs">(A,D,Q)</text>
<text transform="translate(499.0,409.0)" font-size="28.5" fill="#ff0000" textLength="68.2" lengthAdjust="spacingAndGlyphs">E279</text>
<text transform="translate(566.0,417.0)" font-size="19.8" fill="#ff0000" textLength="33.9" lengthAdjust="spacingAndGlyphs">CpI</text>
<text transform="translate(499.0,447.9)" font-size="28.5" fill="#ff0000" textLength="68.2" lengthAdjust="spacingAndGlyphs">E141</text>
<text transform="translate(566.0,456.7)" font-size="19.8" fill="#ff0000" textLength="61.1" lengthAdjust="spacingAndGlyphs">HydA1</text>
<text transform="translate(812.5,127.9)" font-size="28.5" fill="#cccc00" textLength="70.7" lengthAdjust="spacingAndGlyphs">R286</text>
<text transform="translate(882.0,135.8)" font-size="19.8" fill="#cccc00" textLength="33.3" lengthAdjust="spacingAndGlyphs">CpI</text>
<text transform="translate(812.5,168.2)" font-size="28.5" fill="#cccc00" textLength="70.7" lengthAdjust="spacingAndGlyphs">R148</text>
<text transform="translate(882.0,176.6)" font-size="19.8" fill="#cccc00" textLength="60.1" lengthAdjust="spacingAndGlyphs">HydA1</text>
<text transform="translate(840.5,206.8)" font-size="28.5" fill="#cccc00" textLength="37.9" lengthAdjust="spacingAndGlyphs">(A)</text>
<text transform="translate(729.0,408.7)" font-size="28.5" fill="#10c810" textLength="67.8" lengthAdjust="spacingAndGlyphs">E282</text>
<text transform="translate(797.5,416.6)" font-size="19.8" fill="#10c810" textLength="32.8" lengthAdjust="spacingAndGlyphs">CpI</text>
<text transform="translate(729.0,448.9)" font-size="28.5" fill="#10c810" textLength="66.7" lengthAdjust="spacingAndGlyphs">E144</text>
<text transform="translate(797.5,456.8)" font-size="19.8" fill="#10c810" textLength="61.1" lengthAdjust="spacingAndGlyphs">HydA1</text>
<text transform="translate(853.5,429.7)" font-size="28.5" fill="#10c810" textLength="98.1" lengthAdjust="spacingAndGlyphs">(A,D,Q)</text>
</g>
</svg>
</body>
</html>
